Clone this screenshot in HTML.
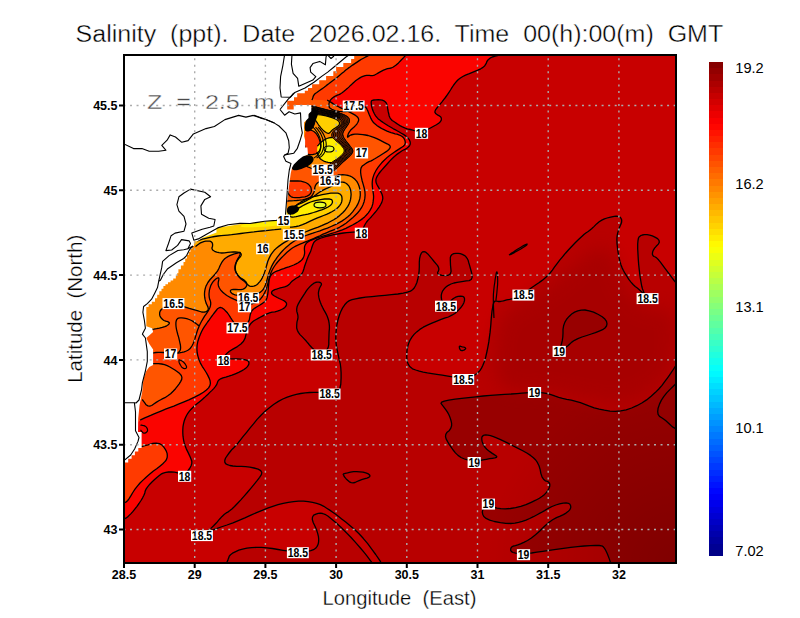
<!DOCTYPE html><html><head><meta charset="utf-8"><style>
html,body{margin:0;padding:0;background:#fff;width:800px;height:618px;overflow:hidden}
svg{display:block}
text{font-family:"Liberation Sans",sans-serif}
</style></head><body>
<svg width="800" height="618" viewBox="0 0 800 618">
<defs><clipPath id="pc"><rect x="125" y="56" width="550" height="506"/></clipPath></defs>

<g clip-path="url(#pc)">
<rect x="125" y="56" width="550" height="506" fill="#c80000"/>
<rect x="120" y="50" width="560" height="520" fill="#c80000"/>
<path d="M380.7 562.0 L379.9 560.6 L378.2 558.1 L375.7 554.5 L372.1 549.7 L367.7 543.7 L363.2 538.3 L358.8 533.5 L354.3 529.2 L349.8 525.5 L345.7 522.1 L342.0 519.2 L338.6 516.6 L335.7 514.3 L332.7 512.2 L329.7 510.1 L326.7 508.2 L323.8 506.3 L320.4 504.7 L316.7 503.4 L312.6 502.4 L308.1 501.6 L303.5 501.2 L298.6 501.2 L293.6 501.6 L288.4 502.4 L283.2 503.4 L278.0 504.7 L272.8 506.3 L267.6 508.2 L262.2 510.3 L256.6 512.6 L250.9 515.1 L244.9 517.9 L239.0 520.4 L233.0 522.8 L227.0 525.0 L221.0 527.0 L215.9 528.8 L211.6 530.4 L208.2 531.9 L205.8 533.1 L204.5 533.6 L204.5 533.4 L205.8 532.4 L208.2 530.6 L210.9 528.4 L213.6 525.8 L216.5 522.8 L219.5 519.2 L222.1 516.4 L224.4 514.3 L226.2 512.9 L227.8 512.1 L229.6 510.8 L231.9 508.9 L234.5 506.5 L237.4 503.5 L240.6 500.1 L243.9 496.4 L247.5 492.3 L251.2 487.9 L254.5 483.9 L257.3 480.4 L259.6 477.3 L261.4 474.7 L261.8 472.5 L260.7 470.6 L258.1 469.1 L254.0 468.0 L249.8 467.1 L245.6 466.6 L241.2 466.3 L236.7 466.3 L232.9 466.0 L229.8 465.5 L227.4 464.7 L225.6 463.6 L224.8 462.1 L224.8 460.3 L225.6 458.0 L227.4 455.4 L229.1 453.0 L230.7 451.0 L232.2 449.2 L233.8 447.7 L235.6 445.7 L237.9 443.1 L240.5 439.9 L243.4 436.2 L246.6 432.3 L249.9 428.2 L253.5 423.9 L257.1 419.4 L261.0 415.2 L265.1 411.3 L269.4 407.7 L273.9 404.3 L278.4 401.4 L282.8 399.0 L287.3 397.1 L291.8 395.6 L296.3 394.4 L300.7 393.5 L305.2 392.8 L309.6 392.5 L313.8 392.3 L317.7 392.3 L321.3 392.5 L324.7 392.8 L327.8 393.1 L330.8 393.2 L333.7 393.1 L336.3 393.0 L338.4 391.4 L339.9 388.4 L340.8 384.0 L341.1 378.1 L341.1 372.8 L340.8 367.9 L340.2 363.5 L339.2 359.7 L338.4 355.8 L337.6 351.9 L336.8 348.0 L336.2 344.1 L335.8 339.9 L335.8 335.4 L336.2 330.5 L336.8 325.4 L337.8 320.5 L339.1 316.0 L340.7 311.8 L342.6 307.9 L344.7 304.8 L347.0 302.3 L349.4 300.6 L352.0 299.7 L355.6 298.8 L360.1 298.0 L365.6 297.2 L372.0 296.6 L378.5 295.9 L384.9 295.3 L391.4 294.6 L397.9 294.0 L403.2 293.2 L407.4 292.2 L410.5 291.1 L412.5 289.8 L414.2 288.0 L415.6 285.5 L416.9 282.5 L417.8 279.0 L418.6 275.2 L419.1 271.1 L419.3 266.8 L419.3 262.3 L419.6 258.5 L420.3 255.6 L421.2 253.4 L422.5 251.9 L424.0 251.6 L425.8 252.2 L427.8 253.9 L430.1 256.6 L432.2 259.1 L434.1 261.5 L435.9 263.6 L437.6 265.6 L438.5 267.4 L438.9 269.2 L438.5 270.9 L437.6 272.5 L437.8 273.8 L439.3 274.7 L441.9 275.4 L445.8 275.7 L448.6 275.1 L450.4 273.7 L451.1 271.4 L450.8 268.1 L450.5 265.2 L450.4 262.4 L450.3 259.9 L450.3 257.6 L450.9 255.8 L452.0 254.5 L453.7 253.7 L456.0 253.4 L458.2 253.4 L460.3 253.7 L462.3 254.4 L464.2 255.3 L465.8 256.6 L467.1 258.3 L468.1 260.2 L468.7 262.5 L469.5 265.1 L470.3 268.0 L471.2 271.2 L472.1 274.8 L472.1 277.5 L471.2 279.5 L469.2 280.6 L466.3 280.9 L463.4 281.3 L460.3 281.8 L457.1 282.4 L453.9 283.0 L451.0 284.0 L448.4 285.3 L446.1 286.9 L444.2 288.8 L442.7 290.8 L441.8 292.9 L441.3 295.1 L441.3 297.4 L441.6 299.4 L442.3 301.2 L443.2 302.8 L444.5 304.0 L445.9 304.5 L447.5 304.0 L449.3 302.6 L451.3 300.3 L453.4 298.5 L455.6 297.2 L458.1 296.4 L460.6 296.1 L462.6 296.3 L463.9 297.1 L464.5 298.5 L464.5 300.5 L463.9 302.7 L462.6 305.1 L460.6 307.8 L458.1 310.6 L455.2 313.2 L451.9 315.2 L448.4 317.0 L444.5 318.2 L440.5 319.7 L436.3 321.3 L431.9 323.1 L427.4 325.1 L423.3 327.2 L419.8 329.4 L416.7 331.9 L414.1 334.4 L411.9 337.2 L410.1 340.1 L408.7 343.2 L407.8 346.4 L407.1 349.8 L406.8 353.4 L406.8 357.1 L407.1 361.0 L408.2 364.2 L410.0 366.8 L412.5 368.8 L415.7 370.0 L419.3 371.2 L423.2 372.1 L427.4 372.9 L431.9 373.6 L436.8 374.3 L442.2 375.2 L447.9 376.2 L454.0 377.2 L459.5 377.8 L464.3 377.8 L468.6 377.2 L472.1 376.2 L475.2 374.7 L477.8 372.8 L479.9 370.6 L481.5 368.1 L482.9 365.2 L484.2 361.9 L485.4 358.4 L486.3 354.5 L487.2 350.5 L488.0 346.3 L488.8 341.9 L489.4 337.4 L490.0 332.9 L490.5 328.3 L490.9 323.8 L491.2 319.2 L491.6 315.0 L492.0 311.2 L492.6 307.8 L493.1 304.6 L493.9 302.5 L494.8 301.1 L495.9 300.8 L497.1 301.2 L498.5 301.5 L500.0 301.5 L501.6 301.2 L503.4 300.8 L505.1 300.3 L506.7 299.9 L508.2 299.6 L509.8 299.4 L511.6 298.9 L513.7 298.1 L516.1 297.1 L518.9 295.9 L521.4 294.6 L523.8 293.2 L526.0 291.8 L528.0 290.2 L530.1 288.8 L532.2 287.2 L534.4 285.8 L536.6 284.2 L538.9 282.7 L541.1 281.1 L543.4 279.4 L545.6 277.6 L547.9 275.5 L550.1 273.0 L552.4 270.1 L554.6 266.9 L557.1 263.6 L559.7 260.2 L562.5 256.8 L565.5 253.2 L568.6 249.8 L571.9 246.2 L575.2 242.8 L578.8 239.2 L581.8 236.4 L584.2 234.2 L586.2 232.7 L587.8 231.8 L589.5 230.5 L591.6 228.8 L593.9 226.6 L596.6 223.9 L599.2 221.8 L601.8 220.1 L604.4 218.8 L607.1 218.0 L609.6 217.3 L611.9 216.8 L614.2 216.4 L616.2 216.2 L618.0 216.3 L619.5 216.8 L620.6 217.8 L621.4 219.0 L621.7 220.5 L621.6 222.2 L621.0 224.1 L620.0 226.3 L619.1 228.5 L618.3 230.9 L617.6 233.4 L617.1 236.0 L616.9 239.3 L617.0 243.3 L617.5 247.9 L618.2 253.1 L619.1 257.7 L620.0 261.7 L621.0 264.9 L622.0 267.6 L623.3 270.3 L624.9 273.2 L626.8 276.2 L628.8 279.4 L631.0 282.1 L633.1 284.5 L635.2 286.5 L637.3 288.0 L639.3 289.7 L641.2 291.4 L642.9 293.2 L644.4 295.0 L645.4 296.0 L645.6 296.0 L645.2 295.0 L644.2 293.2 L643.3 291.1 L642.5 288.9 L641.8 286.5 L641.3 283.8 L640.8 280.8 L640.2 277.4 L639.7 273.6 L639.2 269.4 L638.7 264.8 L638.3 259.8 L638.0 254.4 L637.7 248.7 L637.7 244.0 L638.0 240.5 L638.5 238.0 L639.3 236.7 L640.6 235.7 L642.3 235.0 L644.4 234.7 L647.1 234.7 L649.7 235.1 L652.3 235.9 L654.9 237.1 L657.6 238.6 L659.0 240.3 L659.3 242.2 L658.3 244.1 L656.2 246.3 L654.6 248.2 L653.4 250.1 L652.7 251.8 L652.4 253.3 L652.5 254.6 L653.1 255.7 L654.0 256.5 L655.3 257.0 L656.8 258.1 L658.5 259.8 L660.4 262.2 L662.6 265.1 L664.8 268.1 L667.1 271.2 L669.6 274.5 L672.1 277.9 L674.9 280.5 L678.0 282.1 L681.2 283.0 L684.8 283.0 L687.4 301.6 L689.1 338.7 L690.0 394.4 L690.0 468.6 L670.7 524.3 L632.2 561.4 L574.4 580.0 L497.4 580.0 L439.6 579.0 L401.1 577.0 L381.8 574.0 L381.8 570.0 L381.6 566.7 L381.2 564.0Z" fill="#b80000"/>
<path d="M226.8 562.5 L227.2 561.5 L227.8 560.4 L228.2 559.1 L228.8 557.8 L229.2 556.2 L230.5 554.8 L232.5 553.2 L235.2 551.8 L238.8 550.2 L242.6 549.1 L246.9 548.2 L251.5 547.6 L256.5 547.4 L261.7 547.4 L267.0 547.8 L272.4 548.5 L278.1 549.5 L283.0 550.3 L287.2 550.9 L290.8 551.4 L293.6 551.6 L296.7 551.8 L300.1 551.8 L303.7 551.6 L307.5 551.4 L310.8 550.7 L313.5 549.7 L315.6 548.3 L317.1 546.4 L318.1 544.3 L318.6 541.9 L318.7 539.2 L318.4 536.3 L317.6 533.1 L316.5 529.8 L315.0 526.2 L313.2 522.5 L312.3 519.4 L312.5 517.0 L313.7 515.2 L316.0 514.1 L318.2 513.4 L320.4 513.2 L322.6 513.5 L324.9 514.3 L327.8 516.0 L331.5 518.9 L336.0 522.7 L341.2 527.5 L346.2 532.5 L351.1 537.5 L355.7 542.6 L360.2 547.8 L363.9 552.2 L366.9 555.9 L369.1 558.8 L370.6 560.8 L371.8 563.4 L372.5 566.5 L372.9 570.0 L372.9 574.0 L363.7 577.0 L345.4 579.0 L317.8 580.0 L281.1 580.0 L253.5 579.0 L235.2 577.0 L226.0 574.0 L226.0 570.0 L226.1 566.8 L226.4 564.2Z" fill="#b80000"/>
<path d="M317.9 352.2 L315.9 350.9 L313.9 349.5 L312.0 347.7 L310.1 345.8 L308.3 343.5 L306.4 341.3 L304.4 339.1 L302.3 336.9 L300.0 334.6 L298.4 332.4 L297.3 330.2 L296.7 328.0 L296.7 325.7 L296.8 323.7 L297.0 321.9 L297.4 320.4 L297.8 319.0 L298.0 317.5 L297.9 315.7 L297.5 313.7 L296.8 311.4 L296.7 309.1 L297.1 306.7 L298.2 304.1 L299.7 301.4 L301.4 298.7 L303.0 296.1 L304.8 293.4 L306.5 290.7 L308.3 288.4 L310.1 286.4 L311.9 284.7 L313.6 283.4 L315.4 282.5 L317.0 282.1 L318.7 282.1 L320.2 282.5 L321.2 283.2 L321.5 284.1 L321.2 285.2 L320.4 286.5 L319.6 288.0 L319.1 289.5 L318.7 291.2 L318.4 292.9 L318.5 294.9 L318.8 297.2 L319.4 299.6 L320.3 302.3 L321.4 304.9 L322.5 307.3 L323.7 309.6 L325.0 311.9 L326.2 314.1 L327.2 316.3 L328.0 318.5 L328.7 320.8 L329.1 323.2 L329.4 325.9 L329.4 328.8 L329.1 331.9 L329.0 335.0 L328.9 338.2 L328.8 341.3 L328.8 344.4 L328.3 347.1 L327.3 349.2 L325.9 350.9 L323.9 352.2 L322.5 353.1 L321.5 353.7 L321.0 354.0 L321.0 354.0 L320.5 353.7 L319.5 353.1Z" fill="#b80000"/>
<path d="M673.3 369.5 L671.5 372.2 L669.5 375.2 L667.2 378.3 L664.7 381.7 L662.0 385.4 L658.8 389.0 L655.2 392.6 L651.1 396.2 L646.6 399.9 L641.8 403.0 L636.8 405.7 L631.6 408.0 L626.2 409.8 L620.7 410.9 L615.3 411.4 L609.9 411.2 L604.4 410.2 L599.2 409.1 L594.2 407.8 L589.5 406.2 L584.9 404.3 L580.4 402.7 L575.8 401.4 L571.2 400.2 L566.7 399.3 L562.5 398.3 L558.7 397.3 L555.3 396.2 L552.4 395.1 L549.3 394.1 L546.1 393.4 L542.9 392.8 L539.5 392.5 L536.2 392.3 L532.8 392.3 L529.5 392.5 L526.2 392.8 L522.0 393.2 L517.0 393.6 L511.1 394.0 L504.4 394.3 L497.6 394.8 L490.5 395.4 L483.2 396.0 L475.8 396.8 L468.6 397.6 L461.7 398.4 L455.1 399.2 L448.8 400.1 L444.3 401.1 L441.7 402.2 L441.0 403.4 L442.1 404.8 L443.3 406.3 L444.6 408.1 L446.1 410.1 L447.6 412.4 L448.9 414.8 L450.0 417.4 L450.9 420.2 L451.6 423.1 L451.6 425.8 L450.8 428.2 L449.4 430.4 L447.1 432.2 L445.8 434.3 L445.5 436.5 L446.1 438.9 L447.6 441.6 L449.2 444.3 L451.1 447.1 L453.1 450.0 L455.4 452.9 L458.0 455.4 L461.0 457.5 L464.5 459.0 L468.4 460.2 L472.2 460.8 L475.9 461.0 L479.5 460.7 L483.1 459.9 L486.4 459.3 L489.5 458.7 L492.3 458.3 L494.9 457.9 L496.4 457.4 L496.8 456.6 L496.0 455.7 L494.2 454.6 L492.3 453.4 L490.5 452.1 L488.6 450.7 L486.8 449.2 L485.2 447.5 L483.9 445.7 L482.9 443.6 L482.1 441.4 L481.8 439.5 L481.8 437.9 L482.1 436.7 L482.9 435.8 L484.1 435.2 L485.8 435.0 L487.9 435.2 L490.5 435.7 L493.4 436.6 L496.5 437.8 L500.0 439.3 L503.7 441.2 L507.8 443.2 L512.3 445.5 L517.1 447.9 L522.3 450.5 L526.8 453.0 L530.5 455.4 L533.4 457.7 L535.7 460.0 L537.5 462.7 L539.0 465.8 L540.1 469.4 L540.9 473.6 L542.0 476.8 L543.5 479.2 L545.3 480.8 L547.6 481.5 L549.0 482.6 L549.8 484.1 L549.8 486.0 L549.0 488.2 L547.9 490.4 L546.4 492.4 L544.6 494.4 L542.3 496.2 L539.4 498.2 L535.7 500.2 L531.2 502.3 L526.0 504.6 L520.8 506.3 L515.6 507.6 L510.4 508.5 L505.2 508.8 L500.7 508.7 L497.0 508.2 L494.0 507.2 L491.8 505.7 L489.6 505.1 L487.6 505.3 L485.6 506.3 L483.8 508.1 L482.7 510.1 L482.3 512.1 L482.7 514.2 L483.8 516.5 L486.1 518.4 L489.7 520.1 L494.4 521.5 L500.4 522.6 L505.8 523.3 L510.6 523.5 L514.9 523.2 L518.6 522.4 L522.3 521.4 L526.0 520.1 L529.7 518.5 L533.4 516.7 L537.1 514.7 L540.9 512.7 L544.6 510.6 L548.3 508.3 L552.0 506.5 L555.8 505.0 L559.5 503.9 L563.2 503.1 L566.2 502.9 L568.4 503.3 L569.9 504.2 L570.6 505.7 L570.8 507.2 L570.4 508.7 L569.5 510.1 L568.0 511.6 L566.0 513.1 L563.4 514.6 L560.2 516.1 L556.5 517.6 L552.6 519.8 L548.5 522.8 L544.2 526.5 L539.8 531.0 L535.5 534.8 L531.4 538.0 L527.5 540.5 L523.8 542.3 L520.5 543.8 L517.7 544.9 L515.4 545.7 L513.5 546.0 L512.1 546.7 L511.2 547.6 L510.7 548.9 L510.7 550.4 L511.5 551.6 L513.1 552.5 L515.5 553.2 L518.7 553.5 L522.4 553.6 L526.7 553.4 L531.6 553.0 L536.9 552.2 L542.8 551.4 L549.2 550.4 L556.1 549.4 L563.6 548.3 L570.7 547.3 L577.6 546.6 L584.2 546.0 L590.5 545.6 L595.5 545.4 L599.2 545.5 L601.5 545.8 L602.5 546.2 L603.5 547.1 L604.5 548.4 L605.5 550.0 L606.5 552.0 L607.4 554.1 L608.3 556.2 L609.1 558.4 L609.9 560.6 L610.4 563.3 L610.8 566.4 L611.0 570.0 L611.0 574.0 L615.9 577.0 L625.8 579.0 L640.6 580.0 L660.4 580.0 L675.2 566.6 L685.1 539.8 L690.0 499.5 L690.0 445.9 L689.1 405.6 L687.4 378.8 L684.8 365.4 L681.2 365.4 L678.2 366.1 L675.5 367.4Z" fill="#980000"/>
<defs><radialGradient id="se" cx="676" cy="564" r="190" gradientUnits="userSpaceOnUse"><stop offset="0" stop-color="#000" stop-opacity="0.16"/><stop offset="1" stop-color="#000" stop-opacity="0"/></radialGradient></defs>
<rect x="480" y="370" width="200" height="200" fill="url(#se)"/>
<defs><filter id="b8" x="-20%" y="-20%" width="140%" height="140%"><feGaussianBlur stdDeviation="9"/></filter></defs>
<path d="M518.1 303.2 L526.9 298.8 L535.3 293.9 L543.4 288.6 L551.2 283.0 L558.8 277.0 L566.1 271.1 L573.4 265.2 L580.5 259.4 L587.5 253.6 L593.8 249.8 L599.2 247.8 L604.0 247.6 L608.0 249.4 L611.6 253.1 L614.9 258.7 L617.8 266.2 L620.2 275.8 L623.8 284.2 L628.2 291.8 L633.8 298.2 L640.2 303.8 L646.8 307.4 L653.2 309.3 L659.8 309.4 L666.2 307.6 L671.1 310.5 L674.4 318.0 L676.0 330.1 L676.0 346.9 L673.8 361.2 L669.2 373.1 L662.5 382.5 L653.5 389.5 L644.2 395.0 L634.8 399.0 L625.0 401.5 L615.0 402.5 L603.8 402.4 L591.2 401.1 L577.5 398.8 L562.5 395.2 L548.8 392.8 L536.2 391.2 L525.0 390.8 L515.0 391.2 L507.1 389.6 L501.4 385.9 L497.8 380.0 L496.2 372.0 L495.3 364.1 L494.9 356.4 L495.1 348.8 L495.9 341.2 L496.9 334.4 L498.3 328.1 L500.0 322.5 L502.0 317.5 L505.7 312.6 L511.1 307.9Z" fill="#a40000" filter="url(#b8)" opacity="0.8"/>
<path d="M560.6 346.4 L561.6 343.6 L562.3 340.4 L562.8 337.0 L563.0 333.3 L563.0 329.4 L563.6 325.8 L564.8 322.4 L566.6 319.2 L569.1 316.4 L571.7 314.0 L574.6 312.1 L577.8 310.8 L581.2 310.1 L585.0 310.0 L589.1 310.8 L593.6 312.2 L598.4 314.5 L602.2 316.7 L604.9 319.1 L606.5 321.4 L607.0 323.9 L606.5 326.0 L605.0 328.0 L602.6 329.7 L599.2 331.1 L595.4 332.6 L591.3 334.0 L586.8 335.5 L582.0 337.0 L577.9 338.6 L574.5 340.3 L571.8 342.1 L569.8 344.0 L567.9 345.7 L565.9 347.1 L564.0 348.4 L562.1 349.3 L560.6 350.1 L559.7 350.6 L559.2 350.8 L559.2 350.8 L559.4 350.1 L559.9 348.6Z" fill="#980000"/>
<path d="M495.2 56.2 L492.3 57.0 L490.0 58.2 L488.2 59.7 L486.9 61.5 L486.1 63.7 L484.8 65.7 L483.0 67.4 L480.7 68.8 L477.8 70.1 L474.8 71.3 L471.8 72.6 L468.7 73.9 L465.5 75.1 L462.8 76.5 L460.4 78.0 L458.4 79.5 L456.9 81.0 L455.3 82.9 L453.7 85.0 L452.1 87.4 L450.5 90.0 L448.8 92.6 L447.1 95.1 L445.4 97.5 L443.5 99.9 L441.8 102.1 L440.1 104.2 L438.4 106.2 L436.9 108.0 L435.7 109.6 L435.1 110.9 L434.9 112.0 L435.1 112.7 L435.7 113.5 L436.6 114.3 L437.9 115.1 L439.4 115.9 L440.6 116.8 L441.2 117.9 L441.4 119.0 L441.2 120.3 L440.3 121.7 L438.7 123.2 L436.4 124.7 L433.6 126.2 L430.9 127.7 L428.5 129.0 L426.3 130.2 L424.4 131.2 L422.5 131.9 L420.7 132.1 L418.9 132.0 L417.2 131.5 L415.2 130.9 L412.9 130.2 L410.2 129.5 L407.3 128.8 L404.7 127.9 L402.4 126.9 L400.4 125.9 L398.6 124.7 L396.9 123.6 L395.3 122.5 L393.8 121.5 L392.2 120.5 L391.0 119.2 L390.0 117.8 L389.2 116.0 L388.8 114.0 L388.3 112.0 L387.9 110.0 L387.6 108.0 L387.4 106.0 L386.9 104.3 L386.1 102.8 L385.1 101.7 L383.9 100.8 L382.3 100.2 L380.4 99.8 L378.2 99.7 L375.8 99.8 L373.8 100.0 L372.4 100.3 L371.6 100.8 L371.4 101.2 L371.2 102.1 L371.2 103.2 L371.4 104.6 L371.6 106.4 L372.1 108.2 L372.7 110.1 L373.5 112.0 L374.5 114.0 L375.6 115.8 L376.9 117.4 L378.2 118.9 L379.8 120.1 L381.5 121.4 L383.5 122.8 L385.8 124.2 L388.2 125.8 L390.8 127.2 L393.4 128.8 L396.1 130.2 L398.9 131.8 L401.3 133.2 L403.4 134.4 L405.2 135.6 L406.6 136.8 L407.8 137.9 L408.8 139.1 L409.6 140.4 L410.1 141.7 L410.3 143.0 L410.2 144.2 L409.7 145.3 L409.0 146.3 L408.0 147.3 L406.8 148.2 L405.4 149.1 L403.9 149.8 L402.1 150.8 L400.3 152.0 L398.3 153.4 L396.2 154.9 L394.1 156.7 L392.0 158.7 L389.9 160.9 L387.8 163.2 L385.8 165.5 L383.8 167.8 L381.9 169.9 L380.1 172.0 L378.6 174.0 L377.4 175.9 L376.5 177.6 L376.0 179.1 L375.9 180.8 L376.1 182.5 L376.8 184.3 L377.8 186.1 L378.9 188.0 L379.9 190.0 L381.0 192.1 L382.0 194.2 L382.6 196.2 L382.8 198.4 L382.4 200.4 L381.7 202.6 L380.5 204.8 L379.1 207.1 L377.3 209.6 L375.2 212.3 L373.2 214.6 L371.4 216.7 L369.6 218.6 L368.1 220.1 L366.6 222.0 L365.3 224.0 L364.1 226.3 L363.1 228.8 L361.9 230.7 L360.5 231.8 L359.0 232.3 L357.3 232.1 L355.2 232.0 L352.8 232.1 L349.9 232.3 L346.7 232.6 L343.4 233.0 L340.2 233.5 L337.0 234.1 L333.7 234.7 L330.8 235.4 L328.0 236.0 L325.5 236.7 L323.2 237.3 L321.2 238.0 L319.4 238.6 L317.9 239.3 L316.6 239.9 L315.5 240.7 L314.6 241.5 L313.9 242.4 L313.4 243.3 L312.9 244.5 L312.4 245.8 L311.9 247.2 L311.4 248.9 L310.9 250.4 L310.3 251.9 L309.7 253.2 L309.1 254.5 L308.4 256.1 L307.7 257.8 L306.9 259.7 L306.2 261.8 L305.4 264.0 L304.6 266.3 L303.9 268.8 L303.1 271.2 L302.0 273.5 L300.4 275.4 L298.5 277.0 L296.1 278.3 L294.1 279.7 L292.3 281.0 L290.9 282.4 L289.7 283.9 L288.3 285.1 L286.6 286.1 L284.6 286.8 L282.4 287.4 L280.3 287.9 L278.3 288.5 L276.5 289.1 L274.8 289.6 L273.4 290.3 L272.4 291.0 L271.8 291.8 L271.5 292.7 L271.7 293.6 L272.4 294.5 L273.6 295.5 L275.4 296.5 L277.2 297.5 L279.2 298.5 L281.4 299.5 L283.6 300.5 L285.2 301.6 L286.2 302.7 L286.6 303.9 L286.4 305.1 L285.8 306.3 L284.8 307.4 L283.4 308.5 L281.6 309.5 L279.6 310.4 L277.4 311.1 L274.9 311.8 L272.1 312.2 L269.5 312.9 L267.0 313.8 L264.6 314.9 L262.4 316.1 L260.2 317.3 L258.2 318.4 L256.2 319.5 L254.3 320.5 L252.6 321.8 L251.1 323.2 L249.8 325.0 L248.7 327.0 L247.7 329.3 L246.7 331.9 L245.9 334.9 L245.1 338.1 L243.5 341.2 L240.9 344.0 L237.4 346.6 L232.9 349.1 L229.4 351.3 L226.8 353.5 L225.1 355.4 L224.2 357.3 L224.1 358.5 L224.6 359.3 L225.7 359.4 L227.5 359.1 L229.9 358.8 L233.0 358.8 L236.8 358.9 L241.1 359.1 L244.5 359.6 L247.0 360.4 L248.4 361.3 L248.9 362.6 L248.9 363.8 L248.4 365.2 L247.4 366.6 L246.0 368.0 L244.0 369.5 L241.6 370.9 L238.7 372.4 L235.3 373.8 L232.0 375.1 L228.9 376.2 L225.8 377.1 L222.9 377.8 L220.6 378.8 L218.9 380.0 L217.8 381.4 L217.3 383.1 L216.5 384.9 L215.3 386.7 L213.7 388.6 L211.7 390.6 L209.8 392.4 L208.0 394.2 L206.1 395.9 L204.4 397.6 L202.3 399.4 L199.9 401.4 L197.3 403.6 L194.4 406.1 L191.8 408.5 L189.6 410.9 L187.8 413.3 L186.4 415.8 L185.2 418.3 L184.2 421.0 L183.5 423.8 L183.0 426.7 L182.8 429.8 L182.8 432.9 L183.0 436.2 L183.5 439.6 L184.2 442.9 L185.2 446.0 L186.4 449.1 L187.8 451.9 L189.1 454.6 L190.2 457.0 L191.1 459.2 L191.8 461.2 L191.8 463.4 L191.1 465.8 L189.6 468.5 L187.5 471.3 L185.3 473.3 L183.2 474.3 L181.1 474.3 L179.1 473.4 L176.8 472.7 L174.3 472.2 L171.5 472.0 L168.5 472.0 L165.8 472.4 L163.2 473.1 L161.0 474.2 L159.0 475.8 L156.9 477.5 L154.6 479.5 L152.2 481.8 L149.8 484.2 L147.8 486.6 L146.2 488.9 L145.2 491.0 L144.8 493.0 L143.9 495.2 L142.6 497.8 L141.0 500.5 L139.0 503.5 L137.0 506.3 L135.0 508.9 L133.0 511.4 L131.0 513.6 L129.2 515.4 L127.8 516.8 L126.5 517.8 L125.5 518.2 L123.2 518.6 L119.8 518.9 L115.0 519.0 L109.0 519.0 L104.5 489.1 L101.5 429.2 L100.0 339.4 L100.0 219.6 L125.0 129.8 L174.9 69.9 L249.9 40.0 L349.8 40.0 L424.7 40.9 L474.6 42.8 L499.6 45.6 L499.6 49.4 L498.9 52.4 L497.4 54.7Z" fill="#fa0400"/>
<path d="M401.5 59.7 L398.5 62.9 L395.8 65.3 L393.3 67.0 L391.2 68.0 L389.3 68.3 L387.4 68.7 L385.5 69.4 L383.5 70.2 L381.6 71.2 L379.7 72.2 L378.0 73.1 L376.5 74.0 L375.0 74.8 L373.6 75.4 L372.2 75.7 L370.8 75.7 L369.4 75.4 L368.0 75.3 L366.6 75.4 L365.2 75.6 L363.7 76.1 L362.2 76.7 L360.7 77.4 L359.1 78.4 L357.4 79.5 L355.6 80.8 L354.0 82.2 L352.3 83.8 L350.5 85.4 L348.8 87.1 L347.2 88.6 L345.5 90.1 L343.7 91.6 L342.1 92.8 L340.5 93.8 L338.9 94.6 L337.3 95.1 L335.9 95.8 L334.4 96.6 L333.1 97.5 L331.9 98.5 L330.8 99.6 L330.0 100.7 L329.4 101.9 L329.1 103.1 L328.9 104.3 L328.9 105.4 L329.1 106.5 L329.4 107.5 L330.3 108.4 L331.8 109.3 L333.8 110.1 L336.2 110.9 L338.9 111.4 L341.8 111.6 L344.9 111.6 L348.1 111.4 L351.3 110.9 L354.4 110.1 L357.5 109.1 L360.5 107.9 L362.9 107.1 L364.6 106.9 L365.8 107.1 L366.2 107.9 L366.8 108.8 L367.2 109.8 L367.8 110.9 L368.2 112.1 L368.8 113.5 L369.4 115.0 L370.1 116.6 L370.9 118.4 L371.7 119.9 L372.6 121.3 L373.5 122.5 L374.5 123.5 L375.8 124.6 L377.2 125.7 L379.0 126.9 L381.0 128.1 L383.0 129.2 L385.0 130.2 L387.0 131.1 L389.0 131.9 L391.0 132.6 L393.0 133.2 L395.0 133.8 L397.0 134.2 L398.8 134.8 L400.4 135.5 L401.7 136.3 L402.9 137.1 L403.8 138.2 L404.5 139.4 L405.0 140.8 L405.3 142.3 L405.1 143.8 L404.4 145.1 L403.3 146.3 L401.8 147.3 L400.1 148.4 L398.2 149.6 L396.2 150.9 L394.2 152.2 L392.1 153.7 L389.9 155.2 L387.8 156.9 L385.8 158.8 L383.7 160.7 L381.7 162.8 L379.8 165.1 L378.0 167.4 L376.4 169.8 L375.1 172.2 L374.0 174.6 L373.2 176.9 L372.6 179.2 L372.3 181.5 L372.2 183.6 L372.3 185.8 L372.5 187.9 L372.8 189.9 L373.1 192.1 L373.4 194.2 L373.6 196.4 L373.5 198.7 L373.2 201.2 L372.8 203.9 L372.0 206.4 L371.0 208.7 L369.7 210.9 L368.1 213.1 L366.4 215.0 L364.6 216.9 L362.6 218.6 L360.5 220.1 L358.1 221.7 L355.4 223.4 L352.5 225.0 L349.2 226.7 L345.8 228.3 L342.3 229.8 L338.6 231.1 L334.7 232.5 L330.9 233.7 L327.3 234.8 L323.7 235.9 L320.2 237.0 L317.1 237.9 L314.4 238.9 L312.0 239.8 L310.0 240.7 L308.3 241.7 L306.9 242.7 L305.9 243.9 L305.1 245.1 L304.6 246.5 L304.4 248.1 L304.4 249.7 L304.6 251.6 L304.6 253.4 L304.3 255.1 L303.7 256.8 L302.9 258.5 L301.7 260.0 L300.1 261.4 L298.2 262.7 L296.0 263.9 L293.7 265.0 L291.2 266.0 L288.8 266.9 L286.2 267.7 L283.7 268.6 L281.3 269.4 L279.0 270.3 L276.7 271.1 L274.8 272.0 L273.2 273.0 L271.9 274.1 L270.9 275.3 L270.1 276.6 L269.6 278.2 L269.1 280.0 L268.9 282.0 L268.7 284.0 L268.5 286.0 L268.3 288.0 L268.2 290.0 L268.0 291.9 L267.8 293.8 L267.4 295.6 L267.1 297.4 L266.6 298.9 L266.0 300.1 L265.3 301.1 L264.6 301.9 L263.3 302.8 L261.7 303.9 L259.6 305.2 L257.0 306.7 L254.9 308.1 L253.3 309.3 L252.1 310.5 L251.4 311.6 L250.8 313.0 L250.2 314.8 L249.8 317.0 L249.4 319.6 L248.4 321.7 L246.8 323.4 L244.4 324.8 L241.5 325.6 L238.9 325.8 L236.7 325.3 L234.9 324.0 L233.5 322.0 L232.2 320.1 L230.9 318.1 L229.8 316.3 L228.6 314.5 L227.4 312.8 L225.9 311.2 L224.3 309.6 L222.5 308.2 L220.8 307.5 L219.2 307.7 L217.6 308.7 L216.2 310.5 L214.6 312.5 L213.0 314.7 L211.2 317.0 L209.4 319.6 L207.6 322.0 L206.0 324.4 L204.4 326.7 L203.0 328.9 L201.6 331.5 L200.3 334.4 L199.0 337.8 L197.8 341.5 L197.1 345.1 L196.9 348.8 L197.1 352.5 L197.9 356.1 L199.0 359.7 L200.4 363.1 L202.2 366.3 L204.3 369.5 L206.2 372.5 L207.8 375.4 L209.1 378.1 L210.1 380.8 L210.4 383.3 L209.9 385.6 L208.6 387.9 L206.4 390.0 L203.4 392.3 L199.5 394.6 L194.6 397.1 L188.8 399.8 L183.4 402.1 L178.4 404.2 L173.8 406.1 L169.6 407.6 L165.5 409.2 L161.6 410.8 L157.8 412.4 L154.1 413.9 L150.7 415.4 L147.8 416.6 L145.3 417.7 L143.2 418.6 L141.0 419.9 L138.7 421.6 L136.2 423.8 L133.8 426.2 L132.6 429.2 L132.8 432.5 L134.3 436.2 L137.2 440.4 L140.4 443.2 L144.1 444.6 L148.1 444.8 L152.4 443.5 L156.2 443.2 L159.4 443.7 L161.9 445.0 L163.8 447.2 L165.3 449.3 L166.4 451.4 L167.1 453.4 L167.3 455.4 L167.2 457.2 L166.7 458.9 L165.9 460.5 L164.6 461.9 L162.8 463.7 L160.2 465.9 L157.0 468.5 L153.1 471.3 L149.5 474.3 L146.1 477.2 L143.0 480.1 L140.0 483.0 L137.4 486.1 L135.0 489.2 L132.8 492.5 L130.8 495.9 L129.1 498.6 L127.7 500.5 L126.4 501.8 L125.5 502.2 L123.2 502.6 L119.7 502.9 L115.0 503.0 L109.0 503.0 L104.5 474.1 L101.5 416.2 L100.0 329.4 L100.0 213.6 L119.1 126.8 L157.4 68.9 L214.8 40.0 L291.2 40.0 L348.6 40.9 L386.9 42.8 L406.0 45.6 L406.0 49.4 L405.2 53.0 L403.8 56.4Z" fill="#ff3a00"/>
<path d="M367.0 56.3 L365.2 57.2 L363.4 58.2 L361.4 59.3 L359.3 60.6 L357.1 62.1 L354.8 63.6 L352.6 65.1 L350.3 66.8 L348.0 68.4 L345.8 70.1 L343.7 71.9 L341.6 73.6 L339.7 75.2 L337.6 76.9 L335.5 78.7 L333.3 80.3 L331.0 82.0 L328.7 83.8 L326.5 85.4 L324.2 87.2 L321.9 88.9 L319.9 90.3 L318.2 91.5 L316.8 92.5 L315.7 93.2 L314.7 94.0 L313.9 95.1 L313.2 96.4 L312.8 97.8 L313.3 98.9 L315.0 99.6 L317.7 100.0 L321.5 100.0 L325.0 100.4 L328.2 101.2 L331.1 102.4 L333.6 104.1 L336.5 105.7 L339.5 107.3 L342.9 108.9 L346.4 110.6 L349.6 112.1 L352.4 113.6 L354.7 114.9 L356.6 116.2 L357.9 117.5 L358.6 119.0 L358.6 120.5 L357.9 122.2 L357.0 123.8 L355.7 125.4 L354.1 127.0 L352.1 128.7 L350.5 130.3 L349.2 132.1 L348.3 133.8 L347.7 135.7 L347.5 136.8 L347.7 137.2 L348.4 136.8 L349.4 135.8 L350.9 135.0 L352.7 134.5 L354.9 134.2 L357.6 134.2 L360.2 134.3 L362.8 134.6 L365.4 135.0 L368.1 135.5 L370.8 136.3 L373.7 137.3 L376.8 138.7 L379.9 140.2 L382.7 141.6 L385.1 142.8 L387.1 143.8 L388.6 144.6 L389.7 145.5 L390.2 146.4 L390.2 147.4 L389.7 148.4 L388.8 149.5 L387.5 150.7 L385.8 151.9 L383.7 153.2 L381.7 154.5 L379.8 155.7 L378.1 156.8 L376.5 157.8 L374.8 158.8 L373.0 159.8 L371.1 160.8 L369.0 161.6 L367.1 162.6 L365.4 163.7 L363.8 164.9 L362.2 166.1 L361.2 167.7 L360.7 169.7 L360.6 172.1 L360.9 174.8 L361.5 177.8 L362.2 181.0 L363.2 184.4 L364.2 188.0 L364.9 191.6 L365.1 195.0 L364.8 198.4 L364.1 201.7 L363.0 204.8 L361.5 207.7 L359.7 210.4 L357.5 213.0 L355.0 215.5 L352.3 218.1 L349.3 220.6 L346.0 223.2 L342.7 225.4 L339.5 227.3 L336.2 228.9 L332.9 230.1 L329.6 231.4 L326.4 232.8 L323.1 234.2 L319.9 235.8 L316.7 237.2 L313.6 238.6 L310.5 239.9 L307.5 241.1 L304.8 242.2 L302.5 243.2 L300.6 243.9 L298.9 244.6 L297.3 245.3 L295.7 246.1 L294.1 247.0 L292.4 248.0 L290.7 249.2 L288.9 250.7 L287.0 252.3 L285.0 254.2 L283.1 256.1 L281.2 258.0 L279.4 260.0 L277.6 262.0 L276.0 264.0 L274.6 266.0 L273.3 268.0 L272.2 270.0 L271.2 272.1 L270.3 274.4 L269.6 276.8 L268.9 279.2 L268.3 281.7 L267.7 284.1 L267.1 286.4 L266.4 288.6 L265.6 290.8 L264.6 292.9 L263.4 295.0 L262.1 297.0 L260.7 298.7 L259.4 300.1 L258.1 301.1 L256.9 301.9 L255.4 302.6 L253.8 303.2 L252.0 303.8 L250.0 304.2 L247.9 304.4 L245.8 304.1 L243.5 303.4 L241.2 302.4 L239.1 301.4 L237.2 300.6 L235.4 299.8 L233.8 299.2 L232.2 298.4 L230.6 297.6 L229.0 296.7 L227.3 295.8 L225.8 294.7 L224.3 293.6 L223.0 292.4 L221.6 291.1 L220.6 289.8 L219.7 288.5 L219.0 287.2 L218.5 285.9 L218.2 284.6 L218.2 283.3 L218.3 282.0 L218.6 280.8 L218.8 279.7 L218.9 278.9 L218.8 278.3 L218.7 278.0 L218.4 277.8 L218.0 277.8 L217.5 278.0 L216.8 278.3 L216.1 278.8 L215.3 279.5 L214.4 280.3 L213.5 281.2 L212.6 282.4 L211.8 283.7 L211.0 285.1 L210.4 286.7 L209.9 288.4 L209.4 290.2 L209.2 292.0 L209.0 294.0 L209.1 295.8 L209.3 297.6 L209.7 299.3 L210.4 301.0 L210.7 302.6 L210.7 304.2 L210.4 305.9 L209.9 307.5 L209.1 309.2 L208.2 310.9 L207.1 312.6 L205.9 314.4 L204.6 316.2 L203.4 318.2 L202.1 320.3 L200.9 322.5 L199.8 324.7 L198.8 327.0 L197.9 329.2 L197.1 331.5 L196.4 333.9 L195.6 336.3 L194.9 338.8 L194.1 341.2 L193.2 343.5 L192.2 345.5 L191.1 347.2 L189.9 348.8 L188.3 350.0 L186.4 351.0 L184.2 351.8 L181.8 352.4 L179.4 352.8 L177.2 353.1 L175.2 353.2 L173.4 353.2 L171.3 353.1 L168.9 353.0 L166.2 352.8 L163.4 352.5 L160.7 352.4 L158.2 352.4 L155.9 352.5 L153.8 352.8 L150.9 353.0 L147.3 353.1 L142.9 353.1 L137.7 353.1 L132.0 353.0 L125.7 353.0 L118.8 353.0 L111.2 353.0 L105.6 333.4 L101.9 294.3 L100.0 235.6 L100.0 157.4 L116.8 98.7 L150.5 59.6 L201.1 40.0 L268.4 40.0 L319.0 40.9 L352.7 42.8 L369.5 45.6 L369.5 49.4 L369.1 52.4 L368.2 54.7Z" fill="#ff5500"/>
<path d="M145.3 363.7 L147.4 363.7 L149.8 363.7 L152.5 363.7 L155.4 363.7 L158.5 363.7 L161.6 364.0 L164.5 364.7 L167.2 365.7 L169.9 367.0 L172.4 368.5 L174.9 370.0 L177.4 371.7 L179.7 373.6 L181.3 375.5 L181.9 377.4 L181.7 379.4 L180.6 381.6 L179.2 383.8 L177.5 386.2 L175.5 388.7 L173.1 391.3 L170.6 393.7 L167.8 395.8 L164.9 397.7 L161.7 399.2 L158.8 400.8 L156.2 402.4 L153.8 404.0 L151.7 405.5 L149.7 406.2 L147.9 405.9 L146.1 404.8 L144.6 402.7 L142.6 401.1 L140.3 400.1 L137.6 399.7 L134.6 399.8 L132.3 397.6 L130.8 393.0 L130.0 386.1 L130.0 376.9 L130.8 370.0 L132.3 365.4 L134.6 363.3 L137.6 363.4 L140.4 363.6 L143.0 363.7Z" fill="#ff5500"/>
<path d="M205.6 234.5 L209.4 233.5 L213.8 234.0 L218.8 236.1 L224.5 239.6 L230.9 244.7 L235.2 248.6 L237.4 251.4 L237.5 253.0 L235.6 253.5 L233.7 254.1 L231.7 254.8 L229.8 255.7 L227.8 256.6 L226.1 257.7 L224.7 258.8 L223.4 260.1 L222.5 261.4 L221.6 262.7 L220.8 264.2 L220.0 265.7 L219.4 267.3 L218.7 268.8 L217.9 270.3 L217.0 271.6 L216.0 272.9 L215.0 274.2 L213.9 275.5 L212.7 276.8 L211.3 278.2 L210.1 279.5 L209.0 281.0 L207.9 282.5 L207.0 284.2 L206.1 285.9 L205.5 287.6 L205.0 289.5 L204.7 291.4 L204.5 293.3 L204.5 295.3 L204.7 297.2 L205.0 299.2 L205.5 301.1 L206.1 303.1 L207.0 305.0 L207.9 306.9 L208.3 308.5 L208.1 309.9 L207.4 310.9 L206.0 311.6 L204.6 312.0 L203.2 312.2 L201.7 312.0 L200.1 311.5 L198.1 310.9 L195.6 310.2 L192.7 309.3 L189.3 308.4 L186.1 307.4 L183.0 306.4 L180.2 305.4 L177.5 304.5 L174.7 304.1 L171.8 304.3 L168.8 305.2 L165.6 306.6 L163.1 308.1 L161.3 309.5 L160.2 311.0 L159.7 312.5 L159.6 314.0 L159.8 315.4 L160.4 316.9 L161.4 318.3 L162.6 319.5 L164.0 320.5 L165.7 321.2 L167.7 321.7 L168.9 322.3 L169.4 323.0 L169.1 323.9 L168.2 324.8 L166.7 325.8 L164.8 326.6 L162.3 327.4 L159.4 328.1 L156.6 328.7 L153.9 329.2 L151.3 329.5 L148.8 329.7 L146.0 329.9 L142.8 329.9 L139.4 330.0 L135.6 330.0 L132.8 324.4 L130.9 313.1 L130.0 296.2 L130.0 273.8 L134.4 256.6 L143.1 244.9 L156.2 238.5 L173.8 237.5 L187.8 236.5 L198.4 235.5Z" fill="#ff8a00"/>
<path d="M307.9 107.2 L309.1 106.6 L310.9 106.4 L313.1 106.7 L315.8 107.2 L319.1 108.2 L322.3 109.0 L325.5 109.8 L328.7 110.6 L332.0 111.2 L335.0 112.0 L337.9 112.8 L340.7 113.7 L343.3 114.6 L345.4 115.6 L347.0 116.6 L348.1 117.6 L348.8 118.5 L349.2 119.5 L349.3 120.5 L349.2 121.5 L349.0 122.4 L348.5 123.5 L347.8 124.6 L347.0 125.8 L346.1 127.1 L345.2 128.4 L344.4 129.7 L343.6 130.9 L343.0 132.2 L342.6 133.5 L342.6 134.8 L343.0 136.2 L343.6 137.5 L344.4 138.8 L345.4 140.3 L346.5 141.8 L347.8 143.5 L349.0 145.0 L350.1 146.5 L351.2 147.8 L352.1 149.1 L352.6 150.4 L352.6 151.7 L352.1 152.9 L351.2 154.2 L349.9 155.6 L348.5 157.1 L346.8 158.6 L344.9 160.3 L343.1 161.8 L341.5 163.3 L340.0 164.7 L338.8 166.0 L337.6 167.1 L336.6 168.0 L335.8 168.8 L335.2 169.5 L334.1 170.0 L332.6 170.5 L330.8 171.0 L328.5 171.4 L326.1 171.6 L323.7 171.5 L321.2 171.2 L318.8 170.8 L316.3 170.1 L313.9 169.4 L311.6 168.5 L309.4 167.5 L307.3 166.4 L305.4 165.1 L303.8 163.8 L302.2 162.2 L301.1 158.1 L300.4 151.4 L300.0 142.0 L300.0 130.0 L300.4 120.8 L301.1 114.2 L302.2 110.5 L303.8 109.5 L305.2 108.6 L306.6 107.8Z" fill="#ff8a00"/>
<path d="M340.8 174.9 L342.7 174.7 L344.6 174.8 L346.4 175.1 L348.3 175.5 L350.2 176.1 L352.0 177.0 L353.7 178.2 L355.2 179.6 L356.8 181.4 L358.0 183.5 L359.0 186.0 L359.8 188.9 L360.2 192.1 L360.3 195.2 L359.9 198.2 L359.1 201.1 L357.9 203.9 L356.4 206.6 L354.6 209.2 L352.6 211.8 L350.4 214.4 L347.8 216.8 L344.9 219.0 L341.8 221.1 L338.2 223.1 L334.7 224.9 L331.1 226.5 L327.4 228.1 L323.6 229.4 L319.9 230.8 L316.3 232.0 L312.8 233.2 L309.2 234.3 L306.0 235.5 L303.0 236.7 L300.2 237.9 L297.8 239.1 L295.3 240.5 L292.9 242.0 L290.6 243.6 L288.4 245.4 L286.2 247.2 L284.2 249.1 L282.4 251.0 L280.6 253.0 L278.9 255.1 L277.3 257.2 L275.8 259.4 L274.2 261.6 L272.9 263.9 L271.7 266.1 L270.7 268.4 L269.8 270.6 L269.0 272.9 L268.2 275.3 L267.6 277.8 L266.9 280.2 L266.2 282.6 L265.4 284.9 L264.5 287.0 L263.5 289.0 L262.0 290.8 L260.0 292.4 L257.5 293.9 L254.5 295.1 L251.5 296.0 L248.6 296.5 L245.8 296.5 L242.9 296.2 L240.5 295.9 L238.3 295.6 L236.5 295.2 L235.1 294.9 L233.8 294.4 L232.7 293.9 L231.8 293.2 L231.1 292.5 L230.6 291.8 L230.4 291.2 L230.5 290.6 L230.9 290.0 L231.9 289.7 L233.5 289.5 L235.8 289.5 L238.7 289.7 L241.2 289.6 L243.2 289.1 L244.7 288.4 L245.8 287.2 L246.5 286.2 L246.9 285.1 L246.9 283.9 L246.5 282.8 L245.8 281.7 L244.7 280.6 L243.3 279.6 L241.4 278.4 L239.8 277.2 L238.3 275.7 L237.1 274.1 L235.9 272.3 L235.2 270.5 L234.9 268.7 L234.9 266.9 L235.2 265.0 L235.8 263.2 L236.5 261.4 L237.4 259.6 L238.5 257.7 L239.3 256.2 L239.9 254.9 L240.2 254.0 L240.3 253.3 L239.7 252.0 L238.4 250.2 L236.5 247.7 L233.9 244.6 L232.6 241.3 L232.5 237.8 L233.8 234.0 L236.2 230.0 L240.9 226.4 L247.6 223.1 L256.5 220.2 L267.5 217.8 L275.9 215.1 L281.8 212.2 L285.1 209.1 L285.9 205.9 L287.1 203.4 L288.9 201.7 L291.1 200.8 L293.9 200.7 L296.7 200.5 L299.6 200.2 L302.5 199.8 L305.5 199.2 L308.0 198.5 L310.1 197.4 L311.7 196.1 L312.8 194.4 L313.7 192.8 L314.3 191.1 L314.7 189.4 L314.8 187.6 L315.2 186.1 L315.9 184.7 L316.9 183.5 L318.1 182.5 L319.7 181.6 L321.5 180.7 L323.6 179.9 L325.9 179.1 L328.2 178.4 L330.5 177.6 L332.7 176.9 L334.8 176.1 L336.4 175.6 L337.5 175.2 L338.0 175.0 L338.0 175.0 L338.5 175.0 L339.4 174.9Z" fill="#ff8a00"/>
<path d="M198.1 244.5 L199.9 243.2 L201.7 242.3 L203.7 241.6 L205.8 241.2 L208.0 241.1 L209.8 241.2 L211.1 241.7 L211.9 242.4 L212.4 243.3 L212.6 244.4 L212.6 245.5 L212.4 246.8 L211.9 248.0 L212.2 249.2 L213.0 250.3 L214.6 251.3 L216.7 252.2 L219.1 252.7 L221.8 253.0 L224.6 252.9 L227.7 252.4 L230.5 252.2 L233.1 252.0 L235.3 252.0 L237.4 252.1 L239.0 252.4 L240.1 252.9 L240.9 253.5 L241.2 254.3 L241.2 255.1 L240.9 256.0 L240.2 257.0 L239.3 257.9 L238.4 259.0 L237.6 260.1 L236.9 261.3 L236.2 262.7 L235.8 264.0 L235.5 265.5 L235.3 267.0 L235.3 268.6 L235.5 270.2 L236.0 271.8 L236.7 273.4 L237.7 275.1 L238.7 276.5 L239.8 277.8 L241.0 279.0 L242.4 279.9 L243.5 280.8 L244.5 281.6 L245.3 282.4 L245.9 283.0 L246.6 283.7 L247.3 284.3 L248.1 285.0 L248.8 285.6 L249.8 286.1 L250.9 286.3 L252.2 286.4 L253.8 286.2 L255.2 285.7 L256.8 284.7 L258.2 283.4 L259.8 281.6 L261.1 279.8 L262.3 277.8 L263.3 275.6 L264.2 273.4 L265.0 271.1 L265.8 268.7 L266.4 266.2 L267.1 263.8 L267.8 261.3 L268.8 258.9 L269.9 256.6 L271.1 254.4 L272.6 252.3 L274.2 250.3 L276.0 248.6 L278.0 246.9 L280.1 245.4 L282.2 243.9 L284.5 242.4 L286.8 241.1 L289.0 239.8 L291.3 238.5 L293.5 237.3 L295.6 236.2 L297.9 235.1 L300.3 234.0 L302.7 233.0 L305.3 232.0 L308.1 230.9 L311.2 229.7 L314.6 228.4 L318.2 227.1 L321.7 225.7 L325.0 224.2 L328.1 222.8 L330.9 221.2 L333.7 219.7 L336.2 218.1 L338.6 216.4 L340.7 214.6 L342.7 212.8 L344.6 210.8 L346.2 208.6 L347.8 206.4 L349.0 204.1 L349.9 201.7 L350.6 199.2 L350.9 196.8 L351.1 194.4 L350.9 192.1 L350.6 190.0 L349.9 188.0 L349.0 186.2 L347.8 184.8 L346.4 183.5 L344.6 182.5 L342.7 182.1 L340.6 182.2 L338.2 182.9 L335.8 184.1 L333.2 185.4 L330.6 186.6 L327.9 187.9 L325.1 189.1 L322.6 190.4 L320.2 191.8 L318.0 193.2 L316.0 194.8 L314.0 196.2 L312.0 197.5 L310.0 198.7 L308.0 199.8 L306.0 200.9 L304.0 201.9 L302.0 202.8 L300.0 203.7 L297.9 204.7 L295.8 205.7 L293.6 206.9 L291.4 208.1 L289.4 209.3 L287.8 210.4 L286.5 211.5 L285.5 212.5 L282.6 213.8 L277.9 215.2 L271.2 217.0 L262.8 219.0 L254.2 220.8 L245.8 222.4 L237.2 223.9 L228.8 225.1 L221.4 226.5 L215.1 228.0 L210.0 229.6 L206.0 231.4 L202.5 233.2 L199.5 235.2 L197.0 237.4 L195.0 239.6 L193.7 241.5 L193.2 243.1 L193.3 244.3 L194.2 245.2 L195.3 245.5 L196.6 245.3Z" fill="#ffab00"/>
<path d="M307.6 130.0 L309.4 130.0 L311.0 130.2 L312.5 130.8 L313.9 131.5 L315.1 132.5 L316.2 133.7 L317.2 135.1 L318.1 136.6 L318.9 138.4 L319.5 140.1 L320.0 141.9 L320.4 143.6 L320.6 145.4 L320.6 147.0 L320.4 148.5 L319.9 149.9 L319.1 151.1 L318.2 152.2 L317.1 153.1 L315.8 153.8 L314.2 154.2 L312.8 154.6 L311.2 154.7 L309.8 154.6 L308.2 154.4 L307.0 153.6 L306.1 152.4 L305.4 150.6 L305.1 148.4 L304.8 145.8 L304.7 142.8 L304.7 139.4 L304.8 135.6 L305.3 132.8 L306.3 130.9Z" fill="#ff3a00"/>
<path d="M318.1 114.6 L320.9 114.9 L323.6 115.4 L326.2 116.0 L328.8 116.6 L331.2 117.4 L333.4 118.1 L335.2 118.9 L336.7 119.6 L337.8 120.4 L338.7 121.2 L339.2 122.0 L339.5 122.8 L339.5 123.7 L339.3 124.5 L338.8 125.2 L338.2 125.9 L337.3 126.6 L336.4 127.2 L335.5 127.8 L334.5 128.4 L333.5 129.1 L332.6 129.8 L331.7 130.6 L330.9 131.5 L330.1 132.5 L329.3 133.1 L328.4 133.4 L327.5 133.2 L326.5 132.8 L325.4 132.1 L324.3 131.2 L323.1 130.1 L321.9 128.9 L320.7 127.6 L319.6 126.2 L318.5 124.8 L317.5 123.2 L316.6 121.9 L315.7 120.6 L314.9 119.5 L314.1 118.5 L313.6 117.6 L313.4 116.7 L313.4 115.9 L313.6 115.1 L314.5 114.7 L316.0 114.5Z" fill="#ffcf00"/>
<path d="M319.1 144.1 L320.3 142.9 L321.6 141.7 L323.2 140.6 L325.0 139.5 L327.0 138.5 L329.0 137.8 L331.0 137.5 L333.0 137.6 L335.0 137.9 L336.9 138.5 L338.8 139.2 L340.6 140.2 L342.4 141.3 L344.0 142.6 L345.5 144.0 L346.9 145.6 L348.1 147.4 L348.8 149.0 L348.9 150.5 L348.5 151.9 L347.5 153.1 L346.4 154.4 L345.1 155.6 L343.8 156.9 L342.2 158.1 L340.7 159.2 L339.1 160.2 L337.4 161.1 L335.6 161.9 L333.8 162.4 L331.9 162.6 L330.0 162.6 L328.0 162.4 L326.1 161.9 L324.4 161.3 L322.8 160.5 L321.2 159.5 L320.0 158.4 L319.0 157.1 L318.2 155.8 L317.8 154.2 L317.4 152.8 L317.2 151.2 L317.1 149.8 L317.2 148.2 L317.6 146.8 L318.2 145.4Z" fill="#ffee00"/>
<ellipse cx="329" cy="149" rx="5" ry="3" fill="#e6ff30" stroke="#000" stroke-width="1.2"/>
<path d="M294.2 181.0 L297.8 181.0 L300.8 181.2 L303.4 181.8 L305.6 182.5 L307.4 183.5 L308.8 184.6 L309.9 185.9 L310.8 187.2 L311.2 188.8 L311.4 190.2 L311.3 191.6 L310.9 192.9 L310.1 194.1 L308.9 195.2 L307.1 196.1 L304.9 196.8 L302.1 197.2 L299.6 197.6 L297.2 197.7 L295.0 197.6 L293.0 197.4 L291.3 196.8 L289.9 195.8 L288.9 194.4 L288.1 192.6 L287.7 190.8 L287.6 188.8 L287.8 186.6 L288.2 184.4 L289.5 182.7 L291.5 181.6Z" fill="#ff3a00"/>
<path d="M199.1 240.2 L200.4 239.8 L202.3 239.2 L204.8 238.6 L207.8 237.9 L211.2 237.1 L214.6 236.5 L217.9 236.0 L221.1 235.7 L224.2 235.4 L227.7 235.1 L231.6 234.7 L236.0 234.1 L240.8 233.5 L245.4 232.9 L249.8 232.3 L253.9 231.9 L257.9 231.4 L261.9 231.0 L266.1 230.6 L270.4 230.1 L274.7 229.7 L278.6 229.2 L281.8 228.8 L284.6 228.4 L286.7 227.9 L289.0 227.5 L291.3 227.2 L293.8 226.8 L296.2 226.5 L299.1 225.8 L302.5 224.6 L306.1 223.1 L310.2 221.1 L314.0 219.4 L317.5 217.9 L320.8 216.6 L323.6 215.5 L326.5 214.3 L329.2 213.1 L331.8 211.7 L334.4 210.2 L336.6 208.7 L338.4 207.0 L339.8 205.3 L341.0 203.5 L341.7 201.7 L342.0 199.9 L342.0 198.1 L341.7 196.2 L340.8 194.8 L339.6 193.8 L337.8 193.2 L335.7 193.1 L333.3 193.1 L330.8 193.2 L328.1 193.6 L325.2 194.1 L322.2 194.7 L319.3 195.3 L316.4 196.0 L313.5 196.7 L310.8 197.5 L308.2 198.4 L305.8 199.4 L303.7 200.6 L301.7 201.6 L299.9 202.8 L298.2 203.8 L296.8 204.9 L295.4 206.0 L294.1 207.0 L292.9 207.9 L291.7 208.7 L290.5 209.5 L289.2 210.2 L287.8 210.8 L286.2 211.2 L285.1 212.1 L284.2 213.2 L283.6 214.6 L283.4 216.4 L281.1 217.9 L276.9 219.1 L270.6 220.1 L262.4 220.9 L254.1 221.8 L245.7 222.8 L237.2 223.9 L228.8 225.1 L221.4 226.5 L215.1 228.0 L210.0 229.6 L206.0 231.4 L202.4 232.8 L199.1 233.9 L196.2 234.8 L193.8 235.2 L192.3 235.9 L191.9 236.8 L192.6 237.9 L194.4 239.1 L196.0 239.9 L197.6 240.3Z" fill="#ffcf00"/>
<path d="M302.7 205.8 L305.3 204.4 L307.9 203.1 L310.7 202.0 L313.5 201.1 L316.4 200.4 L319.2 199.8 L322.0 199.4 L324.6 199.0 L327.2 198.9 L329.2 199.0 L330.8 199.3 L331.8 199.9 L332.3 200.8 L332.5 201.8 L332.3 202.8 L331.8 203.8 L330.9 204.9 L329.6 206.0 L328.1 207.0 L326.2 207.9 L324.1 208.8 L321.7 209.8 L319.1 210.7 L316.4 211.6 L313.5 212.5 L310.7 213.3 L307.9 214.1 L305.3 214.7 L302.7 215.2 L300.4 215.7 L298.2 216.2 L296.2 216.6 L294.3 216.9 L292.8 217.1 L291.5 217.0 L290.5 216.7 L289.8 216.1 L289.6 215.4 L290.0 214.6 L290.9 213.7 L292.4 212.6 L293.8 211.6 L295.0 210.7 L296.2 209.9 L297.3 209.1 L298.7 208.2 L300.5 207.1Z" fill="#ffee00"/>
<path d="M248.1 223.8 L252.9 223.2 L258.1 222.7 L263.9 222.0 L270.1 221.2 L276.9 220.3 L282.1 219.8 L285.9 219.8 L288.1 220.1 L288.9 220.9 L288.8 221.7 L287.9 222.5 L286.2 223.3 L283.8 224.2 L280.6 224.9 L276.9 225.6 L272.5 226.1 L267.5 226.4 L262.6 226.8 L257.7 227.0 L252.9 227.2 L248.1 227.3 L244.6 227.2 L242.2 226.9 L241.0 226.4 L241.0 225.6 L242.2 224.9 L244.6 224.3Z" fill="#ffee00"/>
<ellipse cx="320" cy="205" rx="6" ry="2.8" fill="#e6ff30" stroke="#000" stroke-width="1.2"/>
<path d="M381.8 564.0 L381.6 563.7 L381.2 563.0 L380.7 562.0 L379.9 560.6 L378.2 558.1 L375.7 554.5 L372.1 549.7 L367.7 543.7 L363.2 538.3 L358.8 533.5 L354.3 529.2 L349.8 525.5 L345.7 522.1 L342.0 519.2 L338.6 516.6 L335.7 514.3 L332.7 512.2 L329.7 510.1 L326.7 508.2 L323.8 506.3 L320.4 504.7 L316.7 503.4 L312.6 502.4 L308.1 501.6 L303.5 501.2 L298.6 501.2 L293.6 501.6 L288.4 502.4 L283.2 503.4 L278.0 504.7 L272.8 506.3 L267.6 508.2 L262.2 510.3 L256.6 512.6 L250.9 515.1 L244.9 517.9 L239.0 520.4 L233.0 522.8 L227.0 525.0 L221.0 527.0 L215.9 528.8 L211.6 530.4 L208.2 531.9 L205.8 533.1 L204.5 533.6 L204.5 533.4 L205.8 532.4 L208.2 530.6 L210.9 528.4 L213.6 525.8 L216.5 522.8 L219.5 519.2 L222.1 516.4 L224.4 514.3 L226.2 512.9 L227.8 512.1 L229.6 510.8 L231.9 508.9 L234.5 506.5 L237.4 503.5 L240.6 500.1 L243.9 496.4 L247.5 492.3 L251.2 487.9 L254.5 483.9 L257.3 480.4 L259.6 477.3 L261.4 474.7 L261.8 472.5 L260.7 470.6 L258.1 469.1 L254.0 468.0 L249.8 467.1 L245.6 466.6 L241.2 466.3 L236.7 466.3 L232.9 466.0 L229.8 465.5 L227.4 464.7 L225.6 463.6 L224.8 462.1 L224.8 460.3 L225.6 458.0 L227.4 455.4 L229.1 453.0 L230.7 451.0 L232.2 449.2 L233.8 447.7 L235.6 445.7 L237.9 443.1 L240.5 439.9 L243.4 436.2 L246.6 432.3 L249.9 428.2 L253.5 423.9 L257.1 419.4 L261.0 415.2 L265.1 411.3 L269.4 407.7 L273.9 404.3 L278.4 401.4 L282.8 399.0 L287.3 397.1 L291.8 395.6 L296.3 394.4 L300.7 393.5 L305.2 392.8 L309.6 392.5 L313.8 392.3 L317.7 392.3 L321.3 392.5 L324.7 392.8 L327.8 393.1 L330.8 393.2 L333.7 393.1 L336.3 393.0 L338.4 391.4 L339.9 388.4 L340.8 384.0 L341.1 378.1 L341.1 372.8 L340.8 367.9 L340.2 363.5 L339.2 359.7 L338.4 355.8 L337.6 351.9 L336.8 348.0 L336.2 344.1 L335.8 339.9 L335.8 335.4 L336.2 330.5 L336.8 325.4 L337.8 320.5 L339.1 316.0 L340.7 311.8 L342.6 307.9 L344.7 304.8 L347.0 302.3 L349.4 300.6 L352.0 299.7 L355.6 298.8 L360.1 298.0 L365.6 297.2 L372.0 296.6 L378.5 295.9 L384.9 295.3 L391.4 294.6 L397.9 294.0 L403.2 293.2 L407.4 292.2 L410.5 291.1 L412.5 289.8 L414.2 288.0 L415.6 285.5 L416.9 282.5 L417.8 279.0 L418.6 275.2 L419.1 271.1 L419.3 266.8 L419.3 262.3 L419.6 258.5 L420.3 255.6 L421.2 253.4 L422.5 251.9 L424.0 251.6 L425.8 252.2 L427.8 253.9 L430.1 256.6 L432.2 259.1 L434.1 261.5 L435.9 263.6 L437.6 265.6 L438.5 267.4 L438.9 269.2 L438.5 270.9 L437.6 272.5 L437.8 273.8 L439.3 274.7 L441.9 275.4 L445.8 275.7 L448.6 275.1 L450.4 273.7 L451.1 271.4 L450.8 268.1 L450.5 265.2 L450.4 262.4 L450.3 259.9 L450.3 257.6 L450.9 255.8 L452.0 254.5 L453.7 253.7 L456.0 253.4 L458.2 253.4 L460.3 253.7 L462.3 254.4 L464.2 255.3 L465.8 256.6 L467.1 258.3 L468.1 260.2 L468.7 262.5 L469.5 265.1 L470.3 268.0 L471.2 271.2 L472.1 274.8 L472.1 277.5 L471.2 279.5 L469.2 280.6 L466.3 280.9 L463.4 281.3 L460.3 281.8 L457.1 282.4 L453.9 283.0 L451.0 284.0 L448.4 285.3 L446.1 286.9 L444.2 288.8 L442.7 290.8 L441.8 292.9 L441.3 295.1 L441.3 297.4 L441.6 299.4 L442.3 301.2 L443.2 302.8 L444.5 304.0 L445.9 304.5 L447.5 304.0 L449.3 302.6 L451.3 300.3 L453.4 298.5 L455.6 297.2 L458.1 296.4 L460.6 296.1 L462.6 296.3 L463.9 297.1 L464.5 298.5 L464.5 300.5 L463.9 302.7 L462.6 305.1 L460.6 307.8 L458.1 310.6 L455.2 313.2 L451.9 315.2 L448.4 317.0 L444.5 318.2 L440.5 319.7 L436.3 321.3 L431.9 323.1 L427.4 325.1 L423.3 327.2 L419.8 329.4 L416.7 331.9 L414.1 334.4 L411.9 337.2 L410.1 340.1 L408.7 343.2 L407.8 346.4 L407.1 349.8 L406.8 353.4 L406.8 357.1 L407.1 361.0 L408.2 364.2 L410.0 366.8 L412.5 368.8 L415.7 370.0 L419.3 371.2 L423.2 372.1 L427.4 372.9 L431.9 373.6 L436.8 374.3 L442.2 375.2 L447.9 376.2 L454.0 377.2 L459.5 377.8 L464.3 377.8 L468.6 377.2 L472.1 376.2 L475.2 374.7 L477.8 372.8 L479.9 370.6 L481.5 368.1 L482.9 365.2 L484.2 361.9 L485.4 358.4 L486.3 354.5 L487.2 350.5 L488.0 346.3 L488.8 341.9 L489.4 337.4 L490.0 332.9 L490.5 328.3 L490.9 323.8 L491.2 319.2 L491.6 315.0 L492.0 311.2 L492.6 307.8 L493.1 304.6 L493.9 302.5 L494.8 301.1 L495.9 300.8 L497.1 301.2 L498.5 301.5 L500.0 301.5 L501.6 301.2 L503.4 300.8 L505.1 300.3 L506.7 299.9 L508.2 299.6 L509.8 299.4 L511.6 298.9 L513.7 298.1 L516.1 297.1 L518.9 295.9 L521.4 294.6 L523.8 293.2 L526.0 291.8 L528.0 290.2 L530.1 288.8 L532.2 287.2 L534.4 285.8 L536.6 284.2 L538.9 282.7 L541.1 281.1 L543.4 279.4 L545.6 277.6 L547.9 275.5 L550.1 273.0 L552.4 270.1 L554.6 266.9 L557.1 263.6 L559.7 260.2 L562.5 256.8 L565.5 253.2 L568.6 249.8 L571.9 246.2 L575.2 242.8 L578.8 239.2 L581.8 236.4 L584.2 234.2 L586.2 232.7 L587.8 231.8 L589.5 230.5 L591.6 228.8 L593.9 226.6 L596.6 223.9 L599.2 221.8 L601.8 220.1 L604.4 218.8 L607.1 218.0 L609.6 217.3 L611.9 216.8 L614.2 216.4 L616.2 216.2 L618.0 216.3 L619.5 216.8 L620.6 217.8 L621.4 219.0 L621.7 220.5 L621.6 222.2 L621.0 224.1 L620.0 226.3 L619.1 228.5 L618.3 230.9 L617.6 233.4 L617.1 236.0 L616.9 239.3 L617.0 243.3 L617.5 247.9 L618.2 253.1 L619.1 257.7 L620.0 261.7 L621.0 264.9 L622.0 267.6 L623.3 270.3 L624.9 273.2 L626.8 276.2 L628.8 279.4 L631.0 282.1 L633.1 284.5 L635.2 286.5 L637.3 288.0 L639.3 289.7 L641.2 291.4 L642.9 293.2 L644.4 295.0 L645.4 296.0 L645.6 296.0 L645.2 295.0 L644.2 293.2 L643.3 291.1 L642.5 288.9 L641.8 286.5 L641.3 283.8 L640.8 280.8 L640.2 277.4 L639.7 273.6 L639.2 269.4 L638.7 264.8 L638.3 259.8 L638.0 254.4 L637.7 248.7 L637.7 244.0 L638.0 240.5 L638.5 238.0 L639.3 236.7 L640.6 235.7 L642.3 235.0 L644.4 234.7 L647.1 234.7 L649.7 235.1 L652.3 235.9 L654.9 237.1 L657.6 238.6 L659.0 240.3 L659.3 242.2 L658.3 244.1 L656.2 246.3 L654.6 248.2 L653.4 250.1 L652.7 251.8 L652.4 253.3 L652.5 254.6 L653.1 255.7 L654.0 256.5 L655.3 257.0 L656.8 258.1 L658.5 259.8 L660.4 262.2 L662.6 265.1 L664.8 268.1 L667.1 271.2 L669.6 274.5 L672.1 277.9 L674.1 280.5 L675.4 282.1 L676.0 283.0" fill="none" stroke="#000" stroke-width="1.30" stroke-linejoin="round"/>
<path d="M226.0 564.0 L226.1 563.8 L226.4 563.2 L226.8 562.5 L227.2 561.5 L227.8 560.4 L228.2 559.1 L228.8 557.8 L229.2 556.2 L230.5 554.8 L232.5 553.2 L235.2 551.8 L238.8 550.2 L242.6 549.1 L246.9 548.2 L251.5 547.6 L256.5 547.4 L261.7 547.4 L267.0 547.8 L272.4 548.5 L278.1 549.5 L283.0 550.3 L287.2 550.9 L290.8 551.4 L293.6 551.6 L296.7 551.8 L300.1 551.8 L303.7 551.6 L307.5 551.4 L310.8 550.7 L313.5 549.7 L315.6 548.3 L317.1 546.4 L318.1 544.3 L318.6 541.9 L318.7 539.2 L318.4 536.3 L317.6 533.1 L316.5 529.8 L315.0 526.2 L313.2 522.5 L312.3 519.4 L312.5 517.0 L313.7 515.2 L316.0 514.1 L318.2 513.4 L320.4 513.2 L322.6 513.5 L324.9 514.3 L327.8 516.0 L331.5 518.9 L336.0 522.7 L341.2 527.5 L346.2 532.5 L351.1 537.5 L355.7 542.6 L360.2 547.8 L363.9 552.2 L366.9 555.9 L369.1 558.8 L370.6 560.8 L371.8 562.4 L372.5 563.5 L372.9 564.0" fill="none" stroke="#000" stroke-width="1.30" stroke-linejoin="round"/>
<path d="M321.0 354.0 L320.5 353.7 L319.5 353.1 L317.9 352.2 L315.9 350.9 L313.9 349.5 L312.0 347.7 L310.1 345.8 L308.3 343.5 L306.4 341.3 L304.4 339.1 L302.3 336.9 L300.0 334.6 L298.4 332.4 L297.3 330.2 L296.7 328.0 L296.7 325.7 L296.8 323.7 L297.0 321.9 L297.4 320.4 L297.8 319.0 L298.0 317.5 L297.9 315.7 L297.5 313.7 L296.8 311.4 L296.7 309.1 L297.1 306.7 L298.2 304.1 L299.7 301.4 L301.4 298.7 L303.0 296.1 L304.8 293.4 L306.5 290.7 L308.3 288.4 L310.1 286.4 L311.9 284.7 L313.6 283.4 L315.4 282.5 L317.0 282.1 L318.7 282.1 L320.2 282.5 L321.2 283.2 L321.5 284.1 L321.2 285.2 L320.4 286.5 L319.6 288.0 L319.1 289.5 L318.7 291.2 L318.4 292.9 L318.5 294.9 L318.8 297.2 L319.4 299.6 L320.3 302.3 L321.4 304.9 L322.5 307.3 L323.7 309.6 L325.0 311.9 L326.2 314.1 L327.2 316.3 L328.0 318.5 L328.7 320.8 L329.1 323.2 L329.4 325.9 L329.4 328.8 L329.1 331.9 L329.0 335.0 L328.9 338.2 L328.8 341.3 L328.8 344.4 L328.3 347.1 L327.3 349.2 L325.9 350.9 L323.9 352.2 L322.5 353.1 L321.5 353.7 L321.0 354.0" fill="none" stroke="#000" stroke-width="1.30" stroke-linejoin="round"/>
<path d="M676.0 365.4 L675.5 366.1 L674.7 367.4 L673.3 369.5 L671.5 372.2 L669.5 375.2 L667.2 378.3 L664.7 381.7 L662.0 385.4 L658.8 389.0 L655.2 392.6 L651.1 396.2 L646.6 399.9 L641.8 403.0 L636.8 405.7 L631.6 408.0 L626.2 409.8 L620.7 410.9 L615.3 411.4 L609.9 411.2 L604.4 410.2 L599.2 409.1 L594.2 407.8 L589.5 406.2 L584.9 404.3 L580.4 402.7 L575.8 401.4 L571.2 400.2 L566.7 399.3 L562.5 398.3 L558.7 397.3 L555.3 396.2 L552.4 395.1 L549.3 394.1 L546.1 393.4 L542.9 392.8 L539.5 392.5 L536.2 392.3 L532.8 392.3 L529.5 392.5 L526.2 392.8 L522.0 393.2 L517.0 393.6 L511.1 394.0 L504.4 394.3 L497.6 394.8 L490.5 395.4 L483.2 396.0 L475.8 396.8 L468.6 397.6 L461.7 398.4 L455.1 399.2 L448.8 400.1 L444.3 401.1 L441.7 402.2 L441.0 403.4 L442.1 404.8 L443.3 406.3 L444.6 408.1 L446.1 410.1 L447.6 412.4 L448.9 414.8 L450.0 417.4 L450.9 420.2 L451.6 423.1 L451.6 425.8 L450.8 428.2 L449.4 430.4 L447.1 432.2 L445.8 434.3 L445.5 436.5 L446.1 438.9 L447.6 441.6 L449.2 444.3 L451.1 447.1 L453.1 450.0 L455.4 452.9 L458.0 455.4 L461.0 457.5 L464.5 459.0 L468.4 460.2 L472.2 460.8 L475.9 461.0 L479.5 460.7 L483.1 459.9 L486.4 459.3 L489.5 458.7 L492.3 458.3 L494.9 457.9 L496.4 457.4 L496.8 456.6 L496.0 455.7 L494.2 454.6 L492.3 453.4 L490.5 452.1 L488.6 450.7 L486.8 449.2 L485.2 447.5 L483.9 445.7 L482.9 443.6 L482.1 441.4 L481.8 439.5 L481.8 437.9 L482.1 436.7 L482.9 435.8 L484.1 435.2 L485.8 435.0 L487.9 435.2 L490.5 435.7 L493.4 436.6 L496.5 437.8 L500.0 439.3 L503.7 441.2 L507.8 443.2 L512.3 445.5 L517.1 447.9 L522.3 450.5 L526.8 453.0 L530.5 455.4 L533.4 457.7 L535.7 460.0 L537.5 462.7 L539.0 465.8 L540.1 469.4 L540.9 473.6 L542.0 476.8 L543.5 479.2 L545.3 480.8 L547.6 481.5 L549.0 482.6 L549.8 484.1 L549.8 486.0 L549.0 488.2 L547.9 490.4 L546.4 492.4 L544.6 494.4 L542.3 496.2 L539.4 498.2 L535.7 500.2 L531.2 502.3 L526.0 504.6 L520.8 506.3 L515.6 507.6 L510.4 508.5 L505.2 508.8 L500.7 508.7 L497.0 508.2 L494.0 507.2 L491.8 505.7 L489.6 505.1 L487.6 505.3 L485.6 506.3 L483.8 508.1 L482.7 510.1 L482.3 512.1 L482.7 514.2 L483.8 516.5 L486.1 518.4 L489.7 520.1 L494.4 521.5 L500.4 522.6 L505.8 523.3 L510.6 523.5 L514.9 523.2 L518.6 522.4 L522.3 521.4 L526.0 520.1 L529.7 518.5 L533.4 516.7 L537.1 514.7 L540.9 512.7 L544.6 510.6 L548.3 508.3 L552.0 506.5 L555.8 505.0 L559.5 503.9 L563.2 503.1 L566.2 502.9 L568.4 503.3 L569.9 504.2 L570.6 505.7 L570.8 507.2 L570.4 508.7 L569.5 510.1 L568.0 511.6 L566.0 513.1 L563.4 514.6 L560.2 516.1 L556.5 517.6 L552.6 519.8 L548.5 522.8 L544.2 526.5 L539.8 531.0 L535.5 534.8 L531.4 538.0 L527.5 540.5 L523.8 542.3 L520.5 543.8 L517.7 544.9 L515.4 545.7 L513.5 546.0 L512.1 546.7 L511.2 547.6 L510.7 548.9 L510.7 550.4 L511.5 551.6 L513.1 552.5 L515.5 553.2 L518.7 553.5 L522.4 553.6 L526.7 553.4 L531.6 553.0 L536.9 552.2 L542.8 551.4 L549.2 550.4 L556.1 549.4 L563.6 548.3 L570.7 547.3 L577.6 546.6 L584.2 546.0 L590.5 545.6 L595.5 545.4 L599.2 545.5 L601.5 545.8 L602.5 546.2 L603.5 547.1 L604.5 548.4 L605.5 550.0 L606.5 552.0 L607.4 554.1 L608.3 556.2 L609.1 558.4 L609.9 560.6 L610.4 562.3 L610.8 563.4 L611.0 564.0" fill="none" stroke="#000" stroke-width="1.30" stroke-linejoin="round"/>
<path d="M559.2 350.8 L559.4 350.1 L559.9 348.6 L560.6 346.4 L561.6 343.6 L562.3 340.4 L562.8 337.0 L563.0 333.3 L563.0 329.4 L563.6 325.8 L564.8 322.4 L566.6 319.2 L569.1 316.4 L571.7 314.0 L574.6 312.1 L577.8 310.8 L581.2 310.1 L585.0 310.0 L589.1 310.8 L593.6 312.2 L598.4 314.5 L602.2 316.7 L604.9 319.1 L606.5 321.4 L607.0 323.9 L606.5 326.0 L605.0 328.0 L602.6 329.7 L599.2 331.1 L595.4 332.6 L591.3 334.0 L586.8 335.5 L582.0 337.0 L577.9 338.6 L574.5 340.3 L571.8 342.1 L569.8 344.0 L567.9 345.7 L565.9 347.1 L564.0 348.4 L562.1 349.3 L560.6 350.1 L559.7 350.6 L559.2 350.8" fill="none" stroke="#000" stroke-width="1.30" stroke-linejoin="round"/>
<path d="M499.6 55.0 L498.9 55.2 L497.4 55.6 L495.2 56.2 L492.3 57.0 L490.0 58.2 L488.2 59.7 L486.9 61.5 L486.1 63.7 L484.8 65.7 L483.0 67.4 L480.7 68.8 L477.8 70.1 L474.8 71.3 L471.8 72.6 L468.7 73.9 L465.5 75.1 L462.8 76.5 L460.4 78.0 L458.4 79.5 L456.9 81.0 L455.3 82.9 L453.7 85.0 L452.1 87.4 L450.5 90.0 L448.8 92.6 L447.1 95.1 L445.4 97.5 L443.5 99.9 L441.8 102.1 L440.1 104.2 L438.4 106.2 L436.9 108.0 L435.7 109.6 L435.1 110.9 L434.9 112.0 L435.1 112.7 L435.7 113.5 L436.6 114.3 L437.9 115.1 L439.4 115.9 L440.6 116.8 L441.2 117.9 L441.4 119.0 L441.2 120.3 L440.3 121.7 L438.7 123.2 L436.4 124.7 L433.6 126.2 L430.9 127.7 L428.5 129.0 L426.3 130.2 L424.4 131.2 L422.5 131.9 L420.7 132.1 L418.9 132.0 L417.2 131.5 L415.2 130.9 L412.9 130.2 L410.2 129.5 L407.3 128.8 L404.7 127.9 L402.4 126.9 L400.4 125.9 L398.6 124.7 L396.9 123.6 L395.3 122.5 L393.8 121.5 L392.2 120.5 L391.0 119.2 L390.0 117.8 L389.2 116.0 L388.8 114.0 L388.3 112.0 L387.9 110.0 L387.6 108.0 L387.4 106.0 L386.9 104.3 L386.1 102.8 L385.1 101.7 L383.9 100.8 L382.3 100.2 L380.4 99.8 L378.2 99.7 L375.8 99.8 L373.8 100.0 L372.4 100.3 L371.6 100.8 L371.4 101.2 L371.2 102.1 L371.2 103.2 L371.4 104.6 L371.6 106.4 L372.1 108.2 L372.7 110.1 L373.5 112.0 L374.5 114.0 L375.6 115.8 L376.9 117.4 L378.2 118.9 L379.8 120.1 L381.5 121.4 L383.5 122.8 L385.8 124.2 L388.2 125.8 L390.8 127.2 L393.4 128.8 L396.1 130.2 L398.9 131.8 L401.3 133.2 L403.4 134.4 L405.2 135.6 L406.6 136.8 L407.8 137.9 L408.8 139.1 L409.6 140.4 L410.1 141.7 L410.3 143.0 L410.2 144.2 L409.7 145.3 L409.0 146.3 L408.0 147.3 L406.8 148.2 L405.4 149.1 L403.9 149.8 L402.1 150.8 L400.3 152.0 L398.3 153.4 L396.2 154.9 L394.1 156.7 L392.0 158.7 L389.9 160.9 L387.8 163.2 L385.8 165.5 L383.8 167.8 L381.9 169.9 L380.1 172.0 L378.6 174.0 L377.4 175.9 L376.5 177.6 L376.0 179.1 L375.9 180.8 L376.1 182.5 L376.8 184.3 L377.8 186.1 L378.9 188.0 L379.9 190.0 L381.0 192.1 L382.0 194.2 L382.6 196.2 L382.8 198.4 L382.4 200.4 L381.7 202.6 L380.5 204.8 L379.1 207.1 L377.3 209.6 L375.2 212.3 L373.2 214.6 L371.4 216.7 L369.6 218.6 L368.1 220.1 L366.6 222.0 L365.3 224.0 L364.1 226.3 L363.1 228.8 L361.9 230.7 L360.5 231.8 L359.0 232.3 L357.3 232.1 L355.2 232.0 L352.8 232.1 L349.9 232.3 L346.7 232.6 L343.4 233.0 L340.2 233.5 L337.0 234.1 L333.7 234.7 L330.8 235.4 L328.0 236.0 L325.5 236.7 L323.2 237.3 L321.2 238.0 L319.4 238.6 L317.9 239.3 L316.6 239.9 L315.5 240.7 L314.6 241.5 L313.9 242.4 L313.4 243.3 L312.9 244.5 L312.4 245.8 L311.9 247.2 L311.4 248.9 L310.9 250.4 L310.3 251.9 L309.7 253.2 L309.1 254.5 L308.4 256.1 L307.7 257.8 L306.9 259.7 L306.2 261.8 L305.4 264.0 L304.6 266.3 L303.9 268.8 L303.1 271.2 L302.0 273.5 L300.4 275.4 L298.5 277.0 L296.1 278.3 L294.1 279.7 L292.3 281.0 L290.9 282.4 L289.7 283.9 L288.3 285.1 L286.6 286.1 L284.6 286.8 L282.4 287.4 L280.3 287.9 L278.3 288.5 L276.5 289.1 L274.8 289.6 L273.4 290.3 L272.4 291.0 L271.8 291.8 L271.5 292.7 L271.7 293.6 L272.4 294.5 L273.6 295.5 L275.4 296.5 L277.2 297.5 L279.2 298.5 L281.4 299.5 L283.6 300.5 L285.2 301.6 L286.2 302.7 L286.6 303.9 L286.4 305.1 L285.8 306.3 L284.8 307.4 L283.4 308.5 L281.6 309.5 L279.6 310.4 L277.4 311.1 L274.9 311.8 L272.1 312.2 L269.5 312.9 L267.0 313.8 L264.6 314.9 L262.4 316.1 L260.2 317.3 L258.2 318.4 L256.2 319.5 L254.3 320.5 L252.6 321.8 L251.1 323.2 L249.8 325.0 L248.7 327.0 L247.7 329.3 L246.7 331.9 L245.9 334.9 L245.1 338.1 L243.5 341.2 L240.9 344.0 L237.4 346.6 L232.9 349.1 L229.4 351.3 L226.8 353.5 L225.1 355.4 L224.2 357.3 L224.1 358.5 L224.6 359.3 L225.7 359.4 L227.5 359.1 L229.9 358.8 L233.0 358.8 L236.8 358.9 L241.1 359.1 L244.5 359.6 L247.0 360.4 L248.4 361.3 L248.9 362.6 L248.9 363.8 L248.4 365.2 L247.4 366.6 L246.0 368.0 L244.0 369.5 L241.6 370.9 L238.7 372.4 L235.3 373.8 L232.0 375.1 L228.9 376.2 L225.8 377.1 L222.9 377.8 L220.6 378.8 L218.9 380.0 L217.8 381.4 L217.3 383.1 L216.5 384.9 L215.3 386.7 L213.7 388.6 L211.7 390.6 L209.8 392.4 L208.0 394.2 L206.1 395.9 L204.4 397.6 L202.3 399.4 L199.9 401.4 L197.3 403.6 L194.4 406.1 L191.8 408.5 L189.6 410.9 L187.8 413.3 L186.4 415.8 L185.2 418.3 L184.2 421.0 L183.5 423.8 L183.0 426.7 L182.8 429.8 L182.8 432.9 L183.0 436.2 L183.5 439.6 L184.2 442.9 L185.2 446.0 L186.4 449.1 L187.8 451.9 L189.1 454.6 L190.2 457.0 L191.1 459.2 L191.8 461.2 L191.8 463.4 L191.1 465.8 L189.6 468.5 L187.5 471.3 L185.3 473.3 L183.2 474.3 L181.1 474.3 L179.1 473.4 L176.8 472.7 L174.3 472.2 L171.5 472.0 L168.5 472.0 L165.8 472.4 L163.2 473.1 L161.0 474.2 L159.0 475.8 L156.9 477.5 L154.6 479.5 L152.2 481.8 L149.8 484.2 L147.8 486.6 L146.2 488.9 L145.2 491.0 L144.8 493.0 L143.9 495.2 L142.6 497.8 L141.0 500.5 L139.0 503.5 L137.0 506.3 L135.0 508.9 L133.0 511.4 L131.0 513.6 L129.2 515.4 L127.8 516.8 L126.5 517.8 L125.5 518.2 L124.8 518.6 L124.2 518.9 L124.0 519.0" fill="none" stroke="#000" stroke-width="1.30" stroke-linejoin="round"/>
<path d="M406.0 55.0 L405.2 55.8 L403.8 57.4 L401.5 59.7 L398.5 62.9 L395.8 65.3 L393.3 67.0 L391.2 68.0 L389.3 68.3 L387.4 68.7 L385.5 69.4 L383.5 70.2 L381.6 71.2 L379.7 72.2 L378.0 73.1 L376.5 74.0 L375.0 74.8 L373.6 75.4 L372.2 75.7 L370.8 75.7 L369.4 75.4 L368.0 75.3 L366.6 75.4 L365.2 75.6 L363.7 76.1 L362.2 76.7 L360.7 77.4 L359.1 78.4 L357.4 79.5 L355.6 80.8 L354.0 82.2 L352.3 83.8 L350.5 85.4 L348.8 87.1 L347.2 88.6 L345.5 90.1 L343.7 91.6 L342.1 92.8 L340.5 93.8 L338.9 94.6 L337.3 95.1 L335.9 95.8 L334.4 96.6 L333.1 97.5 L331.9 98.5 L330.8 99.6 L330.0 100.7 L329.4 101.9 L329.1 103.1 L328.9 104.3 L328.9 105.4 L329.1 106.5 L329.4 107.5 L330.3 108.4 L331.8 109.3 L333.8 110.1 L336.2 110.9 L338.9 111.4 L341.8 111.6 L344.9 111.6 L348.1 111.4 L351.3 110.9 L354.4 110.1 L357.5 109.1 L360.5 107.9 L362.9 107.1 L364.6 106.9 L365.8 107.1 L366.2 107.9 L366.8 108.8 L367.2 109.8 L367.8 110.9 L368.2 112.1 L368.8 113.5 L369.4 115.0 L370.1 116.6 L370.9 118.4 L371.7 119.9 L372.6 121.3 L373.5 122.5 L374.5 123.5 L375.8 124.6 L377.2 125.7 L379.0 126.9 L381.0 128.1 L383.0 129.2 L385.0 130.2 L387.0 131.1 L389.0 131.9 L391.0 132.6 L393.0 133.2 L395.0 133.8 L397.0 134.2 L398.8 134.8 L400.4 135.5 L401.7 136.3 L402.9 137.1 L403.8 138.2 L404.5 139.4 L405.0 140.8 L405.3 142.3 L405.1 143.8 L404.4 145.1 L403.3 146.3 L401.8 147.3 L400.1 148.4 L398.2 149.6 L396.2 150.9 L394.2 152.2 L392.1 153.7 L389.9 155.2 L387.8 156.9 L385.8 158.8 L383.7 160.7 L381.7 162.8 L379.8 165.1 L378.0 167.4 L376.4 169.8 L375.1 172.2 L374.0 174.6 L373.2 176.9 L372.6 179.2 L372.3 181.5 L372.2 183.6 L372.3 185.8 L372.5 187.9 L372.8 189.9 L373.1 192.1 L373.4 194.2 L373.6 196.4 L373.5 198.7 L373.2 201.2 L372.8 203.9 L372.0 206.4 L371.0 208.7 L369.7 210.9 L368.1 213.1 L366.4 215.0 L364.6 216.9 L362.6 218.6 L360.5 220.1 L358.1 221.7 L355.4 223.4 L352.5 225.0 L349.2 226.7 L345.8 228.3 L342.3 229.8 L338.6 231.1 L334.7 232.5 L330.9 233.7 L327.3 234.8 L323.7 235.9 L320.2 237.0 L317.1 237.9 L314.4 238.9 L312.0 239.8 L310.0 240.7 L308.3 241.7 L306.9 242.7 L305.9 243.9 L305.1 245.1 L304.6 246.5 L304.4 248.1 L304.4 249.7 L304.6 251.6 L304.6 253.4 L304.3 255.1 L303.7 256.8 L302.9 258.5 L301.7 260.0 L300.1 261.4 L298.2 262.7 L296.0 263.9 L293.7 265.0 L291.2 266.0 L288.8 266.9 L286.2 267.7 L283.7 268.6 L281.3 269.4 L279.0 270.3 L276.7 271.1 L274.8 272.0 L273.2 273.0 L271.9 274.1 L270.9 275.3 L270.1 276.6 L269.6 278.2 L269.1 280.0 L268.9 282.0 L268.7 284.0 L268.5 286.0 L268.3 288.0 L268.2 290.0 L268.0 291.9 L267.8 293.8 L267.4 295.6 L267.1 297.4 L266.6 298.9 L266.0 300.1 L265.3 301.1 L264.6 301.9 L263.3 302.8 L261.7 303.9 L259.6 305.2 L257.0 306.7 L254.9 308.1 L253.3 309.3 L252.1 310.5 L251.4 311.6 L250.8 313.0 L250.2 314.8 L249.8 317.0 L249.4 319.6 L248.4 321.7 L246.8 323.4 L244.4 324.8 L241.5 325.6 L238.9 325.8 L236.7 325.3 L234.9 324.0 L233.5 322.0 L232.2 320.1 L230.9 318.1 L229.8 316.3 L228.6 314.5 L227.4 312.8 L225.9 311.2 L224.3 309.6 L222.5 308.2 L220.8 307.5 L219.2 307.7 L217.6 308.7 L216.2 310.5 L214.6 312.5 L213.0 314.7 L211.2 317.0 L209.4 319.6 L207.6 322.0 L206.0 324.4 L204.4 326.7 L203.0 328.9 L201.6 331.5 L200.3 334.4 L199.0 337.8 L197.8 341.5 L197.1 345.1 L196.9 348.8 L197.1 352.5 L197.9 356.1 L199.0 359.7 L200.4 363.1 L202.2 366.3 L204.3 369.5 L206.2 372.5 L207.8 375.4 L209.1 378.1 L210.1 380.8 L210.4 383.3 L209.9 385.6 L208.6 387.9 L206.4 390.0 L203.4 392.3 L199.5 394.6 L194.6 397.1 L188.8 399.8 L183.4 402.1 L178.4 404.2 L173.8 406.1 L169.6 407.6 L165.5 409.2 L161.6 410.8 L157.8 412.4 L154.1 413.9 L150.7 415.4 L147.8 416.6 L145.3 417.7 L143.2 418.6 L141.6 419.3 L140.5 419.8 L140.0 420.0" fill="none" stroke="#000" stroke-width="1.30" stroke-linejoin="round"/>
<path d="M141.5 446.6 L142.6 446.3 L144.8 445.7 L148.1 444.8 L152.4 443.5 L156.2 443.2 L159.4 443.7 L161.9 445.0 L163.8 447.2 L165.3 449.3 L166.4 451.4 L167.1 453.4 L167.3 455.4 L167.2 457.2 L166.7 458.9 L165.9 460.5 L164.6 461.9 L162.8 463.7 L160.2 465.9 L157.0 468.5 L153.1 471.3 L149.5 474.3 L146.1 477.2 L143.0 480.1 L140.0 483.0 L137.4 486.1 L135.0 489.2 L132.8 492.5 L130.8 495.9 L129.1 498.6 L127.7 500.5 L126.4 501.8 L125.5 502.2 L124.7 502.6 L124.2 502.9 L124.0 503.0" fill="none" stroke="#000" stroke-width="1.30" stroke-linejoin="round"/>
<path d="M369.5 55.0 L369.1 55.2 L368.2 55.7 L367.0 56.3 L365.2 57.2 L363.4 58.2 L361.4 59.3 L359.3 60.6 L357.1 62.1 L354.8 63.6 L352.6 65.1 L350.3 66.8 L348.0 68.4 L345.8 70.1 L343.7 71.9 L341.6 73.6 L339.7 75.2 L337.6 76.9 L335.5 78.7 L333.3 80.3 L331.0 82.0 L328.7 83.8 L326.5 85.4 L324.2 87.2 L321.9 88.9 L319.9 90.3 L318.2 91.5 L316.8 92.5 L315.7 93.2 L314.7 94.0 L313.9 95.1 L313.2 96.4 L312.8 97.8 L312.4 98.9 L312.1 99.6 L312.0 100.0" fill="none" stroke="#000" stroke-width="1.30" stroke-linejoin="round"/>
<path d="M327.2 100.0 L327.8 100.4 L329.1 101.2 L331.1 102.4 L333.6 104.1 L336.5 105.7 L339.5 107.3 L342.9 108.9 L346.4 110.6 L349.6 112.1 L352.4 113.6 L354.7 114.9 L356.6 116.2 L357.9 117.5 L358.6 119.0 L358.6 120.5 L357.9 122.2 L357.0 123.8 L355.7 125.4 L354.1 127.0 L352.1 128.7 L350.5 130.3 L349.2 132.1 L348.3 133.8 L347.7 135.7 L347.5 136.8 L347.7 137.2 L348.4 136.8 L349.4 135.8 L350.9 135.0 L352.7 134.5 L354.9 134.2 L357.6 134.2 L360.2 134.3 L362.8 134.6 L365.4 135.0 L368.1 135.5 L370.8 136.3 L373.7 137.3 L376.8 138.7 L379.9 140.2 L382.7 141.6 L385.1 142.8 L387.1 143.8 L388.6 144.6 L389.7 145.5 L390.2 146.4 L390.2 147.4 L389.7 148.4 L388.8 149.5 L387.5 150.7 L385.8 151.9 L383.7 153.2 L381.7 154.5 L379.8 155.7 L378.1 156.8 L376.5 157.8 L374.8 158.8 L373.0 159.8 L371.1 160.8 L369.0 161.6 L367.1 162.6 L365.4 163.7 L363.8 164.9 L362.2 166.1 L361.2 167.7 L360.7 169.7 L360.6 172.1 L360.9 174.8 L361.5 177.8 L362.2 181.0 L363.2 184.4 L364.2 188.0 L364.9 191.6 L365.1 195.0 L364.8 198.4 L364.1 201.7 L363.0 204.8 L361.5 207.7 L359.7 210.4 L357.5 213.0 L355.0 215.5 L352.3 218.1 L349.3 220.6 L346.0 223.2 L342.7 225.4 L339.5 227.3 L336.2 228.9 L332.9 230.1 L329.6 231.4 L326.4 232.8 L323.1 234.2 L319.9 235.8 L316.7 237.2 L313.6 238.6 L310.5 239.9 L307.5 241.1 L304.8 242.2 L302.5 243.2 L300.6 243.9 L298.9 244.6 L297.3 245.3 L295.7 246.1 L294.1 247.0 L292.4 248.0 L290.7 249.2 L288.9 250.7 L287.0 252.3 L285.0 254.2 L283.1 256.1 L281.2 258.0 L279.4 260.0 L277.6 262.0 L276.0 264.0 L274.6 266.0 L273.3 268.0 L272.2 270.0 L271.2 272.1 L270.3 274.4 L269.6 276.8 L268.9 279.2 L268.3 281.7 L267.7 284.1 L267.1 286.4 L266.4 288.6 L265.6 290.8 L264.6 292.9 L263.4 295.0 L262.1 297.0 L260.7 298.7 L259.4 300.1 L258.1 301.1 L256.9 301.9 L255.4 302.6 L253.8 303.2 L252.0 303.8 L250.0 304.2 L247.9 304.4 L245.8 304.1 L243.5 303.4 L241.2 302.4 L239.1 301.4 L237.2 300.6 L235.4 299.8 L233.8 299.2 L232.2 298.4 L230.6 297.6 L229.0 296.7 L227.3 295.8 L225.8 294.7 L224.3 293.6 L223.0 292.4 L221.6 291.1 L220.6 289.8 L219.7 288.5 L219.0 287.2 L218.5 285.9 L218.2 284.6 L218.2 283.3 L218.3 282.0 L218.6 280.8 L218.8 279.7 L218.9 278.9 L218.8 278.3 L218.7 278.0 L218.4 277.8 L218.0 277.8 L217.5 278.0 L216.8 278.3 L216.1 278.8 L215.3 279.5 L214.4 280.3 L213.5 281.2 L212.6 282.4 L211.8 283.7 L211.0 285.1 L210.4 286.7 L209.9 288.4 L209.4 290.2 L209.2 292.0 L209.0 294.0 L209.1 295.8 L209.3 297.6 L209.7 299.3 L210.4 301.0 L210.7 302.6 L210.7 304.2 L210.4 305.9 L209.9 307.5 L209.1 309.2 L208.2 310.9 L207.1 312.6 L205.9 314.4 L204.6 316.2 L203.4 318.2 L202.1 320.3 L200.9 322.5 L199.8 324.7 L198.8 327.0 L197.9 329.2 L197.1 331.5 L196.4 333.9 L195.6 336.3 L194.9 338.8 L194.1 341.2 L193.2 343.5 L192.2 345.5 L191.1 347.2 L189.9 348.8 L188.3 350.0 L186.4 351.0 L184.2 351.8 L181.8 352.4 L179.4 352.8 L177.2 353.1 L175.2 353.2 L173.4 353.2 L171.3 353.1 L168.9 353.0 L166.2 352.8 L163.4 352.5 L160.7 352.4 L158.2 352.4 L155.9 352.5 L153.8 352.8 L152.2 353.0 L151.1 353.1 L150.6 353.2" fill="none" stroke="#000" stroke-width="1.30" stroke-linejoin="round"/>
<path d="M142.2 363.7 L142.7 363.7 L143.8 363.7 L145.3 363.7 L147.4 363.7 L149.8 363.7 L152.5 363.7 L155.4 363.7 L158.5 363.7 L161.6 364.0 L164.5 364.7 L167.2 365.7 L169.9 367.0 L172.4 368.5 L174.9 370.0 L177.4 371.7 L179.7 373.6 L181.3 375.5 L181.9 377.4 L181.7 379.4 L180.6 381.6 L179.2 383.8 L177.5 386.2 L175.5 388.7 L173.1 391.3 L170.6 393.7 L167.8 395.8 L164.9 397.7 L161.7 399.2 L158.8 400.8 L156.2 402.4 L153.8 404.0 L151.7 405.5 L149.7 406.2 L147.9 405.9 L146.1 404.8 L144.6 402.7 L143.4 401.1 L142.6 400.0 L142.2 399.5" fill="none" stroke="#000" stroke-width="1.30" stroke-linejoin="round"/>
<path d="M240.4 252.3 L239.9 252.4 L239.0 252.7 L237.5 253.0 L235.6 253.5 L233.7 254.1 L231.7 254.8 L229.8 255.7 L227.8 256.6 L226.1 257.7 L224.7 258.8 L223.4 260.1 L222.5 261.4 L221.6 262.7 L220.8 264.2 L220.0 265.7 L219.4 267.3 L218.7 268.8 L217.9 270.3 L217.0 271.6 L216.0 272.9 L215.0 274.2 L213.9 275.5 L212.7 276.8 L211.3 278.2 L210.1 279.5 L209.0 281.0 L207.9 282.5 L207.0 284.2 L206.1 285.9 L205.5 287.6 L205.0 289.5 L204.7 291.4 L204.5 293.3 L204.5 295.3 L204.7 297.2 L205.0 299.2 L205.5 301.1 L206.1 303.1 L207.0 305.0 L207.9 306.9 L208.3 308.5 L208.1 309.9 L207.4 310.9 L206.0 311.6 L204.6 312.0 L203.2 312.2 L201.7 312.0 L200.1 311.5 L198.1 310.9 L195.6 310.2 L192.7 309.3 L189.3 308.4 L186.1 307.4 L183.0 306.4 L180.2 305.4 L177.5 304.5 L174.7 304.1 L171.8 304.3 L168.8 305.2 L165.6 306.6 L163.1 308.1 L161.3 309.5 L160.2 311.0 L159.7 312.5 L159.6 314.0 L159.8 315.4 L160.4 316.9 L161.4 318.3 L162.6 319.5 L164.0 320.5 L165.7 321.2 L167.7 321.7 L168.9 322.3 L169.4 323.0 L169.1 323.9 L168.2 324.8 L166.7 325.8 L164.8 326.6 L162.3 327.4 L159.4 328.1 L156.6 328.7 L153.9 329.2 L151.3 329.5 L148.8 329.7 L146.9 329.9 L145.6 329.9 L145.0 330.0" fill="none" stroke="#000" stroke-width="1.30" stroke-linejoin="round"/>
<path d="M338.0 175.0 L338.5 175.0 L339.4 174.9 L340.8 174.9 L342.7 174.7 L344.6 174.8 L346.4 175.1 L348.3 175.5 L350.2 176.1 L352.0 177.0 L353.7 178.2 L355.2 179.6 L356.8 181.4 L358.0 183.5 L359.0 186.0 L359.8 188.9 L360.2 192.1 L360.3 195.2 L359.9 198.2 L359.1 201.1 L357.9 203.9 L356.4 206.6 L354.6 209.2 L352.6 211.8 L350.4 214.4 L347.8 216.8 L344.9 219.0 L341.8 221.1 L338.2 223.1 L334.7 224.9 L331.1 226.5 L327.4 228.1 L323.6 229.4 L319.9 230.8 L316.3 232.0 L312.8 233.2 L309.2 234.3 L306.0 235.5 L303.0 236.7 L300.2 237.9 L297.8 239.1 L295.3 240.5 L292.9 242.0 L290.6 243.6 L288.4 245.4 L286.2 247.2 L284.2 249.1 L282.4 251.0 L280.6 253.0 L278.9 255.1 L277.3 257.2 L275.8 259.4 L274.2 261.6 L272.9 263.9 L271.7 266.1 L270.7 268.4 L269.8 270.6 L269.0 272.9 L268.2 275.3 L267.6 277.8 L266.9 280.2 L266.2 282.6 L265.4 284.9 L264.5 287.0 L263.5 289.0 L262.0 290.8 L260.0 292.4 L257.5 293.9 L254.5 295.1 L251.5 296.0 L248.6 296.5 L245.8 296.5 L242.9 296.2 L240.5 295.9 L238.3 295.6 L236.5 295.2 L235.1 294.9 L233.8 294.4 L232.7 293.9 L231.8 293.2 L231.1 292.5 L230.6 291.8 L230.4 291.2 L230.5 290.6 L230.9 290.0 L231.9 289.7 L233.5 289.5 L235.8 289.5 L238.7 289.7 L241.2 289.6 L243.2 289.1 L244.7 288.4 L245.8 287.2 L246.5 286.2 L246.9 285.1 L246.9 283.9 L246.5 282.8 L245.8 281.7 L244.7 280.6 L243.3 279.6 L241.4 278.4 L239.8 277.2 L238.3 275.7 L237.1 274.1 L235.9 272.3 L235.2 270.5 L234.9 268.7 L234.9 266.9 L235.2 265.0 L235.8 263.2 L236.5 261.4 L237.4 259.6 L238.5 257.7 L239.3 256.2 L239.9 254.9 L240.2 254.0 L240.3 253.3 L240.3 252.8 L240.4 252.5 L240.4 252.3" fill="none" stroke="#000" stroke-width="1.30" stroke-linejoin="round"/>
<path d="M287.0 201.0 L287.7 201.0 L289.1 200.9 L291.1 200.8 L293.9 200.7 L296.7 200.5 L299.6 200.2 L302.5 199.8 L305.5 199.2 L308.0 198.5 L310.1 197.4 L311.7 196.1 L312.8 194.4 L313.7 192.8 L314.3 191.1 L314.7 189.4 L314.8 187.6 L315.2 186.1 L315.9 184.7 L316.9 183.5 L318.1 182.5 L319.7 181.6 L321.5 180.7 L323.6 179.9 L325.9 179.1 L328.2 178.4 L330.5 177.6 L332.7 176.9 L334.8 176.1 L336.4 175.6 L337.5 175.2 L338.0 175.0" fill="none" stroke="#000" stroke-width="1.30" stroke-linejoin="round"/>
<path d="M306.0 108.0 L306.3 107.9 L306.9 107.6 L307.9 107.2 L309.1 106.6 L310.9 106.4 L313.1 106.7 L315.8 107.2 L319.1 108.2 L322.3 109.0 L325.5 109.8 L328.7 110.6 L332.0 111.2 L335.0 112.0 L337.9 112.8 L340.7 113.7 L343.3 114.6 L345.4 115.6 L347.0 116.6 L348.1 117.6 L348.8 118.5 L349.2 119.5 L349.3 120.5 L349.2 121.5 L349.0 122.4 L348.5 123.5 L347.8 124.6 L347.0 125.8 L346.1 127.1 L345.2 128.4 L344.4 129.7 L343.6 130.9 L343.0 132.2 L342.6 133.5 L342.6 134.8 L343.0 136.2 L343.6 137.5 L344.4 138.8 L345.4 140.3 L346.5 141.8 L347.8 143.5 L349.0 145.0 L350.1 146.5 L351.2 147.8 L352.1 149.1 L352.6 150.4 L352.6 151.7 L352.1 152.9 L351.2 154.2 L349.9 155.6 L348.5 157.1 L346.8 158.6 L344.9 160.3 L343.1 161.8 L341.5 163.3 L340.0 164.7 L338.8 166.0 L337.6 167.1 L336.6 168.0 L335.8 168.8 L335.2 169.5 L334.1 170.0 L332.6 170.5 L330.8 171.0 L328.5 171.4 L326.1 171.6 L323.7 171.5 L321.2 171.2 L318.8 170.8 L316.3 170.1 L313.9 169.4 L311.6 168.5 L309.4 167.5 L307.7 166.8 L306.6 166.2 L306.0 166.0" fill="none" stroke="#000" stroke-width="1.30" stroke-linejoin="round"/>
<path d="M195.5 246.5 L195.9 246.2 L196.8 245.5 L198.1 244.5 L199.9 243.2 L201.7 242.3 L203.7 241.6 L205.8 241.2 L208.0 241.1 L209.8 241.2 L211.1 241.7 L211.9 242.4 L212.4 243.3 L212.6 244.4 L212.6 245.5 L212.4 246.8 L211.9 248.0 L212.2 249.2 L213.0 250.3 L214.6 251.3 L216.7 252.2 L219.1 252.7 L221.8 253.0 L224.6 252.9 L227.7 252.4 L230.5 252.2 L233.1 252.0 L235.3 252.0 L237.4 252.1 L239.0 252.4 L240.1 252.9 L240.9 253.5 L241.2 254.3 L241.2 255.1 L240.9 256.0 L240.2 257.0 L239.3 257.9 L238.4 259.0 L237.6 260.1 L236.9 261.3 L236.2 262.7 L235.8 264.0 L235.5 265.5 L235.3 267.0 L235.3 268.6 L235.5 270.2 L236.0 271.8 L236.7 273.4 L237.7 275.1 L238.7 276.5 L239.8 277.8 L241.0 279.0 L242.4 279.9 L243.5 280.8 L244.5 281.6 L245.3 282.4 L245.9 283.0 L246.6 283.7 L247.3 284.3 L248.1 285.0 L248.8 285.6 L249.8 286.1 L250.9 286.3 L252.2 286.4 L253.8 286.2 L255.2 285.7 L256.8 284.7 L258.2 283.4 L259.8 281.6 L261.1 279.8 L262.3 277.8 L263.3 275.6 L264.2 273.4 L265.0 271.1 L265.8 268.7 L266.4 266.2 L267.1 263.8 L267.8 261.3 L268.8 258.9 L269.9 256.6 L271.1 254.4 L272.6 252.3 L274.2 250.3 L276.0 248.6 L278.0 246.9 L280.1 245.4 L282.2 243.9 L284.5 242.4 L286.8 241.1 L289.0 239.8 L291.3 238.5 L293.5 237.3 L295.6 236.2 L297.9 235.1 L300.3 234.0 L302.7 233.0 L305.3 232.0 L308.1 230.9 L311.2 229.7 L314.6 228.4 L318.2 227.1 L321.7 225.7 L325.0 224.2 L328.1 222.8 L330.9 221.2 L333.7 219.7 L336.2 218.1 L338.6 216.4 L340.7 214.6 L342.7 212.8 L344.6 210.8 L346.2 208.6 L347.8 206.4 L349.0 204.1 L349.9 201.7 L350.6 199.2 L350.9 196.8 L351.1 194.4 L350.9 192.1 L350.6 190.0 L349.9 188.0 L349.0 186.2 L347.8 184.8 L346.4 183.5 L344.6 182.5 L342.7 182.1 L340.6 182.2 L338.2 182.9 L335.8 184.1 L333.2 185.4 L330.6 186.6 L327.9 187.9 L325.1 189.1 L322.6 190.4 L320.2 191.8 L318.0 193.2 L316.0 194.8 L314.0 196.2 L312.0 197.5 L310.0 198.7 L308.0 199.8 L306.0 200.9 L304.0 201.9 L302.0 202.8 L300.0 203.7 L297.9 204.7 L295.8 205.7 L293.6 206.9 L291.4 208.1 L289.7 209.1 L288.6 209.7 L288.0 210.0" fill="none" stroke="#000" stroke-width="1.30" stroke-linejoin="round"/>
<path d="M290.0 227.3 L290.6 227.2 L291.9 227.1 L293.8 226.8 L296.2 226.5 L299.1 225.8 L302.5 224.6 L306.1 223.1 L310.2 221.1 L314.0 219.4 L317.5 217.9 L320.8 216.6 L323.6 215.5 L326.5 214.3 L329.2 213.1 L331.8 211.7 L334.4 210.2 L336.6 208.7 L338.4 207.0 L339.8 205.3 L341.0 203.5 L341.7 201.7 L342.0 199.9 L342.0 198.1 L341.7 196.2 L340.8 194.8 L339.6 193.8 L337.8 193.2 L335.7 193.1 L333.3 193.1 L330.8 193.2 L328.1 193.6 L325.2 194.1 L322.2 194.7 L319.3 195.3 L316.4 196.0 L313.5 196.7 L310.8 197.5 L308.2 198.4 L305.8 199.4 L303.7 200.6 L301.7 201.6 L299.9 202.8 L298.2 203.8 L296.8 204.9 L295.4 206.0 L294.1 207.0 L292.9 207.9 L291.7 208.7 L290.9 209.4 L290.3 209.8 L290.0 210.0" fill="none" stroke="#000" stroke-width="1.30" stroke-linejoin="round"/>
<path d="M197.0 241.0 L197.3 240.9 L198.0 240.6 L199.1 240.2 L200.4 239.8 L202.3 239.2 L204.8 238.6 L207.8 237.9 L211.2 237.1 L214.6 236.5 L217.9 236.0 L221.1 235.7 L224.2 235.4 L227.7 235.1 L231.6 234.7 L236.0 234.1 L240.8 233.5 L245.4 232.9 L249.8 232.3 L253.9 231.9 L257.9 231.4 L261.9 231.0 L266.1 230.6 L270.4 230.1 L274.7 229.7 L278.0 229.3 L280.2 229.1 L281.3 229.0" fill="none" stroke="#000" stroke-width="1.30" stroke-linejoin="round"/>
<path d="M298.9 208.0 L299.5 207.6 L300.8 206.9 L302.7 205.8 L305.3 204.4 L307.9 203.1 L310.7 202.0 L313.5 201.1 L316.4 200.4 L319.2 199.8 L322.0 199.4 L324.6 199.0 L327.2 198.9 L329.2 199.0 L330.8 199.3 L331.8 199.9 L332.3 200.8 L332.5 201.8 L332.3 202.8 L331.8 203.8 L330.9 204.9 L329.6 206.0 L328.1 207.0 L326.2 207.9 L324.1 208.8 L321.7 209.8 L319.1 210.7 L316.4 211.6 L313.5 212.5 L310.7 213.3 L307.9 214.1 L305.3 214.7 L302.7 215.2 L300.4 215.7 L298.2 216.2 L296.2 216.6 L294.3 216.9 L292.8 217.1 L291.5 217.0 L290.5 216.7 L289.8 216.1 L289.6 215.4 L290.0 214.6 L290.9 213.7 L292.4 212.6 L293.5 211.8 L294.2 211.3 L294.6 211.0" fill="none" stroke="#000" stroke-width="1.30" stroke-linejoin="round"/>
<path d="M289.0 181.0 L289.9 181.0 L291.6 181.0 L294.2 181.0 L297.8 181.0 L300.8 181.2 L303.4 181.8 L305.6 182.5 L307.4 183.5 L308.8 184.6 L309.9 185.9 L310.8 187.2 L311.2 188.8 L311.4 190.2 L311.3 191.6 L310.9 192.9 L310.1 194.1 L308.9 195.2 L307.1 196.1 L304.9 196.8 L302.1 197.2 L299.6 197.6 L297.2 197.7 L295.0 197.6 L293.0 197.4 L291.3 196.8 L289.9 195.8 L288.9 194.4 L288.1 192.6 L287.6 191.3 L287.2 190.4 L287.0 190.0" fill="none" stroke="#000" stroke-width="1.30" stroke-linejoin="round"/>
<path d="M317.4 146.0 L317.7 145.7 L318.3 145.1 L319.1 144.1 L320.3 142.9 L321.6 141.7 L323.2 140.6 L325.0 139.5 L327.0 138.5 L329.0 137.8 L331.0 137.5 L333.0 137.6 L335.0 137.9 L336.9 138.5 L338.8 139.2 L340.6 140.2 L342.4 141.3 L344.0 142.6 L345.5 144.0 L346.9 145.6 L348.1 147.4 L348.8 149.0 L348.9 150.5 L348.5 151.9 L347.5 153.1 L346.4 154.4 L345.1 155.6 L343.8 156.9 L342.2 158.1 L340.7 159.2 L339.1 160.2 L337.4 161.1 L335.6 161.9 L333.8 162.4 L331.9 162.6 L330.0 162.6 L328.0 162.4 L326.1 161.9 L324.4 161.3 L322.8 160.5 L321.2 159.5 L320.0 158.4 L319.0 157.1 L318.2 155.8 L317.8 154.2 L317.4 153.1 L317.1 152.4 L317.0 152.0" fill="none" stroke="#000" stroke-width="1.30" stroke-linejoin="round"/>
<path d="M314.0 114.0 L314.7 114.1 L316.1 114.3 L318.1 114.6 L320.9 114.9 L323.6 115.4 L326.2 116.0 L328.8 116.6 L331.2 117.4 L333.4 118.1 L335.2 118.9 L336.7 119.6 L337.8 120.4 L338.7 121.2 L339.2 122.0 L339.5 122.8 L339.5 123.7 L339.3 124.5 L338.8 125.2 L338.2 125.9 L337.3 126.6 L336.4 127.2 L335.5 127.8 L334.5 128.4 L333.5 129.1 L332.6 129.8 L331.7 130.6 L330.9 131.5 L330.1 132.5 L329.3 133.1 L328.4 133.4 L327.5 133.2 L326.5 132.8 L325.4 132.1 L324.3 131.2 L323.1 130.1 L321.9 128.9 L320.7 127.6 L319.6 126.2 L318.5 124.8 L317.5 123.2 L316.6 121.9 L315.7 120.6 L314.9 119.5 L314.1 118.5 L313.6 117.6 L313.4 116.7 L313.4 115.9 L313.6 115.1 L313.8 114.6 L313.9 114.2 L314.0 114.0" fill="none" stroke="#000" stroke-width="1.20" stroke-linejoin="round"/>
<path d="M199.0 325.8 L198.5 325.4 L197.4 324.6 L195.9 323.4 L193.7 321.9 L191.5 320.5 L189.2 319.5 L186.7 318.7 L184.0 318.2 L181.8 317.9 L180.0 317.9 L178.5 318.2 L177.5 318.7 L176.7 319.6 L176.2 320.9 L175.9 322.6 L175.9 324.8 L176.1 327.0 L176.5 329.3 L177.1 331.8 L177.8 334.5 L178.6 337.1 L179.2 339.7 L179.8 342.4 L180.4 345.0 L180.6 347.3 L180.5 349.1 L180.0 350.6 L179.2 351.6 L178.6 352.4 L178.2 352.9 L178.0 353.2" fill="none" stroke="#000" stroke-width="1.30" stroke-linejoin="round"/>
<path d="M305.0 130.0 L305.4 130.0 L306.3 130.0 L307.6 130.0 L309.4 130.0 L311.0 130.2 L312.5 130.8 L313.9 131.5 L315.1 132.5 L316.2 133.7 L317.2 135.1 L318.1 136.6 L318.9 138.4 L319.5 140.1 L320.0 141.9 L320.4 143.6 L320.6 145.4 L320.6 147.0 L320.4 148.5 L319.9 149.9 L319.1 151.1 L318.2 152.2 L317.1 153.1 L315.8 153.8 L314.2 154.2 L312.8 154.6 L311.2 154.7 L309.8 154.6 L308.2 154.4 L307.0 153.6 L306.1 152.4 L305.4 150.6 L305.1 148.4 L304.8 146.7 L304.6 145.6 L304.5 145.0" fill="none" stroke="#000" stroke-width="1.20" stroke-linejoin="round"/>
<path d="M676.0 383.5 L675.1 384.4 L673.3 386.2 L670.6 388.9 L666.9 392.6 L663.9 396.3 L661.4 400.1 L659.5 404.1 L658.1 408.2 L657.7 411.6 L658.1 414.3 L659.5 416.4 L661.7 417.7 L663.9 419.2 L665.9 420.8 L667.8 422.5 L669.7 424.3 L671.3 425.8 L672.6 426.9 L673.8 427.7 L674.7 428.1 L675.3 428.5 L675.8 428.7 L676.0 428.8" fill="none" stroke="#000" stroke-width="1.30" stroke-linejoin="round"/>
<path d="M459.4 346.0 L459.9 346.1 L460.8 346.4 L462.3 346.8 L464.2 347.2 L465.3 347.8 L465.7 348.5 L465.2 349.2 L463.9 350.1 L462.8 350.5 L461.8 350.7 L461.0 350.4 L460.4 349.9 L459.9 349.2 L459.6 348.6 L459.4 347.9 L459.4 347.1 L459.4 346.6 L459.4 346.2 L459.4 346.0" fill="none" stroke="#000" stroke-width="1.30" stroke-linejoin="round"/>
<path d="M343.0 474.0 L343.8 473.8 L345.2 473.4 L347.5 472.9 L350.5 472.1 L353.6 471.7 L356.7 471.6 L359.9 471.8 L363.1 472.2 L365.8 472.9 L367.8 473.6 L369.1 474.5 L369.9 475.5 L369.8 476.4 L368.8 477.3 L366.9 478.1 L364.1 478.9 L361.6 479.7 L359.2 480.6 L357.0 481.5 L355.0 482.5 L353.1 482.9 L351.2 482.6 L349.4 481.8 L347.6 480.2 L346.2 478.9 L345.1 477.6 L344.2 476.5 L343.8 475.5 L343.4 474.8 L343.1 474.2 L343.0 474.0" fill="none" stroke="#000" stroke-width="1.30" stroke-linejoin="round"/>
<path d="M494.0 318.0 L493.9 316.6 L493.8 313.9 L493.6 309.8 L493.4 304.2 L493.3 299.1 L493.4 294.4 L493.8 290.0 L494.2 286.0 L494.8 282.3 L495.2 278.9 L495.8 275.9 L496.2 273.1 L496.7 271.9 L497.1 272.1 L497.4 273.9 L497.6 277.1 L497.7 280.7 L497.6 284.6 L497.2 288.8 L496.8 293.2 L496.4 296.6 L496.1 298.9 L496.0 300.0" fill="none" stroke="#000" stroke-width="1.20" stroke-linejoin="round"/>
<path d="M509.0 255.0 L509.4 254.7 L510.3 254.1 L511.6 253.1 L513.4 251.9 L515.4 250.5 L517.8 249.0 L520.5 247.4 L523.5 245.6 L525.6 244.5 L526.9 244.0 L527.2 244.1 L526.8 244.9 L525.5 245.9 L523.5 247.3 L520.8 249.0 L517.2 251.0 L514.4 252.6 L512.3 253.7 L510.9 254.4 L510.1 254.6 L509.6 254.8 L509.2 254.9 L509.0 255.0" fill="none" stroke="#000" stroke-width="1.20" stroke-linejoin="round"/>
<path d="M179.0 359.5 L179.3 359.7 L179.9 360.0 L180.9 360.4 L182.1 361.1 L183.3 361.9 L184.3 363.0 L185.3 364.2 L186.2 365.8 L186.6 366.9 L186.4 367.8 L185.8 368.4 L184.7 368.6 L183.6 368.4 L182.5 367.8 L181.5 366.8 L180.5 365.2 L179.8 363.9 L179.2 362.7 L179.0 361.7 L179.0 360.8 L179.0 360.2 L179.0 359.7 L179.0 359.5" fill="none" stroke="#000" stroke-width="1.20" stroke-linejoin="round"/>
<path d="M140.5 425.0 L140.8 425.1 L141.5 425.2 L142.6 425.4 L143.9 425.6 L145.1 426.1 L146.1 426.9 L146.9 427.9 L147.4 429.1 L147.6 430.2 L147.4 431.2 L146.7 432.1 L145.6 432.9 L144.6 433.2 L143.6 433.1 L142.7 432.5 L141.8 431.5 L141.2 430.8 L140.7 430.2 L140.5 430.0" fill="none" stroke="#000" stroke-width="1.20" stroke-linejoin="round"/>
<path d="M315.8 107.2 L319.1 108.2 L322.3 109.0 L325.5 109.8 L328.7 110.6 L332.0 111.2 L335.0 112.0 L337.9 112.8 L340.7 113.7 L343.3 114.6 L345.4 115.6 L347.0 116.6 L348.1 117.6 L348.8 118.5 L349.2 119.5 L349.3 120.5 L349.2 121.5 L349.0 122.4 L348.5 123.5 L347.8 124.6 L347.0 125.8 L346.1 127.1 L345.2 128.4 L344.4 129.7 L343.6 130.9 L343.0 132.2 L342.6 133.5 L342.6 134.8 L343.0 136.2 L343.6 137.5 L344.4 138.8 L345.4 140.3 L346.5 141.8 L347.8 143.5 L349.0 145.0 L350.1 146.5 L351.2 147.8 L352.1 149.1 L352.6 150.4 L352.6 151.7 L352.1 152.9 L351.2 154.2 L349.9 155.6 L348.5 157.1 L346.8 158.6 L344.9 160.3 L343.1 161.8 L341.5 163.3 L340.0 164.7 L338.8 166.0 L337.6 167.1 L336.6 168.0 L335.8 168.8 L335.2 169.5 L334.4 169.6 L333.4 169.2 L332.2 168.4 L331.0 167.0 L330.2 165.8 L329.9 164.8 L330.1 163.9 L330.9 163.1 L331.8 162.4 L332.8 161.6 L333.9 160.9 L335.1 160.1 L336.4 159.3 L337.6 158.4 L338.9 157.5 L340.1 156.5 L341.2 155.5 L342.2 154.4 L343.1 153.3 L343.9 152.2 L344.2 151.0 L344.1 149.8 L343.5 148.4 L342.5 147.1 L341.4 145.7 L340.1 144.4 L338.8 143.1 L337.2 141.9 L335.9 140.7 L334.6 139.6 L333.5 138.5 L332.5 137.5 L331.9 136.4 L331.6 135.3 L331.8 134.1 L332.2 132.9 L332.9 131.8 L333.6 130.8 L334.5 129.9 L335.5 129.1 L336.5 128.4 L337.5 127.6 L338.5 126.9 L339.5 126.1 L340.2 125.3 L340.8 124.4 L341.0 123.5 L341.0 122.5 L340.7 121.5 L340.1 120.6 L339.1 119.7 L337.9 118.8 L336.2 118.0 L334.2 117.2 L331.9 116.4 L329.1 115.6 L326.3 115.0 L323.5 114.4 L320.7 113.9 L317.8 113.6 L315.5 112.8 L313.8 111.7 L312.6 110.3 L311.9 108.5 L312.3 107.4 L313.6 107.0Z" fill="#8a2c00"/>
<path d="M311.0 105.8 L311.8 106.0 L313.4 106.5 L315.8 107.2 L319.1 108.2 L322.3 109.0 L325.5 109.8 L328.7 110.6 L332.0 111.2 L335.0 112.0 L337.9 112.8 L340.7 113.7 L343.3 114.6 L345.4 115.6 L347.0 116.6 L348.1 117.6 L348.8 118.5 L349.2 119.5 L349.3 120.5 L349.2 121.5 L349.0 122.4 L348.5 123.5 L347.8 124.6 L347.0 125.8 L346.1 127.1 L345.2 128.4 L344.4 129.7 L343.6 130.9 L343.0 132.2 L342.6 133.5 L342.6 134.8 L343.0 136.2 L343.6 137.5 L344.4 138.8 L345.4 140.3 L346.5 141.8 L347.8 143.5 L349.0 145.0 L350.1 146.5 L351.2 147.8 L352.1 149.1 L352.6 150.4 L352.6 151.7 L352.1 152.9 L351.2 154.2 L349.9 155.6 L348.5 157.1 L346.8 158.6 L344.9 160.3 L343.1 161.8 L341.5 163.3 L340.0 164.7 L338.8 166.0 L337.6 167.1 L336.6 168.0 L335.8 168.8 L335.2 169.5 L334.7 169.9 L334.4 170.2 L334.2 170.4" fill="none" stroke="#000" stroke-width="1.00" stroke-linejoin="round"/>
<path d="M311.4 107.0 L312.2 107.2 L313.8 107.6 L316.2 108.3 L319.3 109.1 L322.5 109.9 L325.7 110.7 L328.8 111.4 L331.9 112.1 L334.9 112.8 L337.7 113.6 L340.2 114.5 L342.6 115.5 L344.5 116.4 L346.0 117.4 L346.9 118.4 L347.5 119.4 L347.8 120.3 L347.8 121.3 L347.6 122.2 L347.2 123.2 L346.7 124.2 L346.0 125.2 L345.1 126.4 L344.1 127.6 L343.2 128.8 L342.4 130.0 L341.7 131.3 L341.1 132.6 L340.8 133.8 L340.9 135.1 L341.2 136.4 L341.9 137.6 L342.8 139.0 L343.8 140.4 L345.0 141.8 L346.3 143.4 L347.5 144.9 L348.7 146.3 L349.7 147.7 L350.7 149.0 L351.2 150.3 L351.2 151.5 L350.8 152.8 L349.8 154.1 L348.7 155.4 L347.3 156.8 L345.7 158.3 L343.9 159.8 L342.2 161.2 L340.7 162.6 L339.2 163.9 L337.9 165.1 L336.8 166.2 L335.8 167.1 L335.0 167.9 L334.3 168.5 L333.8 169.0 L333.5 169.3 L333.3 169.5" fill="none" stroke="#000" stroke-width="1.00" stroke-linejoin="round"/>
<path d="M311.8 108.2 L312.6 108.4 L314.2 108.8 L316.5 109.3 L319.6 110.1 L322.7 110.8 L325.8 111.6 L328.9 112.3 L331.9 112.9 L334.8 113.7 L337.4 114.5 L339.8 115.4 L341.9 116.3 L343.6 117.3 L344.9 118.2 L345.8 119.2 L346.2 120.2 L346.4 121.2 L346.3 122.1 L346.0 123.0 L345.5 123.9 L344.8 124.9 L344.1 125.9 L343.2 126.9 L342.2 128.0 L341.3 129.2 L340.5 130.4 L339.8 131.6 L339.2 132.9 L339.0 134.1 L339.1 135.4 L339.5 136.6 L340.2 137.8 L341.2 139.1 L342.2 140.4 L343.4 141.8 L344.8 143.3 L346.0 144.8 L347.2 146.2 L348.3 147.6 L349.3 148.9 L349.8 150.2 L349.8 151.4 L349.4 152.7 L348.5 153.9 L347.4 155.2 L346.1 156.6 L344.6 157.9 L342.9 159.3 L341.3 160.7 L339.8 161.9 L338.4 163.1 L337.1 164.3 L336.0 165.3 L335.0 166.2 L334.2 166.9 L333.5 167.6 L333.0 168.1 L332.6 168.4 L332.5 168.6" fill="none" stroke="#000" stroke-width="1.00" stroke-linejoin="round"/>
<path d="M312.2 109.4 L313.0 109.6 L314.5 109.9 L316.8 110.4 L319.9 111.1 L322.9 111.7 L325.9 112.4 L328.9 113.1 L331.9 113.8 L334.6 114.6 L337.1 115.4 L339.3 116.2 L341.2 117.2 L342.7 118.1 L343.9 119.1 L344.6 120.0 L344.9 121.0 L345.0 122.0 L344.8 122.9 L344.4 123.8 L343.7 124.7 L343.0 125.6 L342.2 126.5 L341.3 127.5 L340.3 128.5 L339.4 129.6 L338.6 130.7 L337.9 131.9 L337.4 133.2 L337.1 134.4 L337.3 135.6 L337.7 136.8 L338.6 138.0 L339.5 139.2 L340.6 140.5 L341.9 141.9 L343.3 143.3 L344.6 144.7 L345.7 146.1 L346.8 147.4 L347.8 148.8 L348.3 150.1 L348.4 151.3 L348.0 152.6 L347.1 153.8 L346.1 155.0 L344.9 156.3 L343.5 157.6 L341.9 158.9 L340.4 160.1 L338.9 161.3 L337.6 162.4 L336.3 163.4 L335.2 164.4 L334.2 165.2 L333.3 166.0 L332.7 166.7 L332.1 167.2 L331.8 167.5 L331.6 167.7" fill="none" stroke="#000" stroke-width="1.00" stroke-linejoin="round"/>
<path d="M312.7 110.6 L313.4 110.7 L314.9 111.0 L317.2 111.4 L320.1 112.0 L323.1 112.6 L326.1 113.3 L329.0 113.9 L331.9 114.7 L334.5 115.4 L336.8 116.2 L338.8 117.1 L340.5 118.0 L341.8 118.9 L342.8 119.9 L343.4 120.9 L343.6 121.8 L343.6 122.8 L343.3 123.7 L342.8 124.6 L342.0 125.4 L341.2 126.2 L340.3 127.1 L339.3 128.0 L338.4 128.9 L337.5 130.0 L336.7 131.1 L336.0 132.2 L335.5 133.5 L335.3 134.7 L335.5 135.9 L336.0 137.1 L336.9 138.2 L337.9 139.3 L339.0 140.6 L340.3 141.9 L341.8 143.2 L343.1 144.6 L344.3 146.0 L345.4 147.3 L346.4 148.7 L346.9 150.0 L347.0 151.2 L346.6 152.4 L345.8 153.6 L344.8 154.8 L343.7 156.0 L342.4 157.2 L340.9 158.4 L339.5 159.6 L338.1 160.6 L336.8 161.6 L335.5 162.6 L334.4 163.4 L333.4 164.3 L332.5 165.0 L331.8 165.7 L331.3 166.3 L330.9 166.6 L330.7 166.8" fill="none" stroke="#000" stroke-width="1.00" stroke-linejoin="round"/>
<path d="M313.1 111.8 L313.8 111.9 L315.3 112.2 L317.5 112.5 L320.4 113.0 L323.3 113.5 L326.2 114.1 L329.1 114.8 L331.9 115.5 L334.4 116.3 L336.5 117.1 L338.3 118.0 L339.8 118.8 L341.0 119.8 L341.7 120.7 L342.2 121.7 L342.3 122.7 L342.2 123.6 L341.8 124.5 L341.1 125.3 L340.2 126.1 L339.3 126.9 L338.4 127.7 L337.4 128.6 L336.4 129.4 L335.5 130.4 L334.8 131.4 L334.1 132.6 L333.6 133.8 L333.5 135.0 L333.7 136.2 L334.2 137.3 L335.2 138.3 L336.3 139.4 L337.5 140.6 L338.8 141.9 L340.3 143.2 L341.6 144.5 L342.8 145.8 L343.9 147.2 L344.9 148.5 L345.5 149.9 L345.6 151.1 L345.3 152.3 L344.5 153.5 L343.5 154.6 L342.5 155.7 L341.2 156.9 L339.9 158.0 L338.5 159.0 L337.2 160.0 L335.9 160.9 L334.7 161.7 L333.6 162.5 L332.6 163.3 L331.7 164.1 L331.0 164.8 L330.4 165.4 L330.1 165.7 L329.9 165.9" fill="none" stroke="#000" stroke-width="1.00" stroke-linejoin="round"/>
<path d="M313.5 113.0 L314.2 113.1 L315.7 113.3 L317.8 113.6 L320.7 113.9 L323.5 114.4 L326.3 115.0 L329.1 115.6 L331.9 116.4 L334.2 117.2 L336.2 118.0 L337.9 118.8 L339.1 119.7 L340.1 120.6 L340.7 121.5 L341.0 122.5 L341.0 123.5 L340.8 124.4 L340.2 125.3 L339.5 126.1 L338.5 126.9 L337.5 127.6 L336.5 128.4 L335.5 129.1 L334.5 129.9 L333.6 130.8 L332.9 131.8 L332.2 132.9 L331.8 134.1 L331.6 135.3 L331.9 136.4 L332.5 137.5 L333.5 138.5 L334.6 139.6 L335.9 140.7 L337.2 141.9 L338.8 143.1 L340.1 144.4 L341.4 145.7 L342.5 147.1 L343.5 148.4 L344.1 149.8 L344.2 151.0 L343.9 152.2 L343.1 153.3 L342.2 154.4 L341.2 155.5 L340.1 156.5 L338.9 157.5 L337.6 158.4 L336.4 159.3 L335.1 160.1 L333.9 160.9 L332.8 161.6 L331.8 162.4 L330.9 163.1 L330.1 163.9 L329.6 164.4 L329.2 164.8 L329.0 165.0" fill="none" stroke="#000" stroke-width="1.00" stroke-linejoin="round"/>
<path d="M312.9 108.1 L314.1 108.4 L315.2 109.0 L316.2 109.7 L316.9 110.5 L317.6 111.5 L317.9 112.7 L317.9 114.1 L317.6 115.6 L316.9 117.4 L316.3 119.1 L315.8 120.9 L315.2 122.6 L314.8 124.4 L314.1 126.0 L313.4 127.4 L312.5 128.7 L311.5 129.8 L310.4 130.7 L309.3 131.2 L308.1 131.5 L306.9 131.5 L305.9 131.1 L305.2 130.3 L304.8 129.1 L304.7 127.4 L304.8 125.8 L305.0 124.1 L305.4 122.4 L306.1 120.6 L306.7 118.9 L307.3 117.1 L307.9 115.4 L308.6 113.6 L309.1 112.1 L309.6 110.8 L310.1 109.7 L310.4 108.8 L311.0 108.2 L311.8 108.0Z" fill="#000"/>
<path d="M293.9 163.2 L295.1 161.3 L296.5 159.7 L298.0 158.4 L299.6 157.4 L301.4 156.6 L303.1 156.0 L304.9 155.6 L306.6 155.3 L308.4 155.2 L309.9 155.3 L311.2 155.8 L312.3 156.5 L313.2 157.5 L313.6 158.6 L313.6 159.8 L313.2 161.1 L312.3 162.4 L311.2 163.7 L309.9 164.8 L308.4 165.8 L306.6 166.7 L304.9 167.5 L303.1 168.2 L301.4 168.9 L299.6 169.6 L298.0 170.0 L296.5 170.2 L295.1 170.3 L293.9 170.2 L292.9 169.8 L292.3 169.3 L292.0 168.5 L292.0 167.5 L292.3 166.3 L292.9 164.8Z" fill="#000"/>
<path d="M289.2 206.2 L290.8 205.8 L292.3 205.5 L293.9 205.5 L295.6 205.8 L297.4 206.2 L298.6 206.9 L299.2 207.8 L299.2 208.9 L298.8 210.1 L298.0 211.2 L297.0 212.2 L295.8 213.1 L294.2 213.9 L292.8 214.4 L291.4 214.6 L290.1 214.6 L288.9 214.4 L287.9 213.8 L287.3 212.8 L287.0 211.4 L287.0 209.6 L287.4 208.2 L288.1 207.1Z" fill="#000"/>
<path d="M313.0 127.0 L313.3 127.4 L313.9 128.1 L314.9 129.2 L316.1 130.8 L317.2 132.4 L318.2 134.1 L319.1 136.0 L319.9 138.0 L320.4 140.0 L320.8 142.0 L321.0 144.0 L321.0 146.0 L320.8 147.9 L320.4 149.6 L319.9 151.2 L319.1 152.8 L318.3 154.1 L317.4 155.2 L316.5 156.1 L315.5 156.9 L314.8 157.4 L314.2 157.8 L314.0 158.0" fill="none" stroke="#000" stroke-width="1.10" stroke-linejoin="round"/>
<path d="M315.6 127.0 L315.9 127.4 L316.5 128.1 L317.5 129.2 L318.7 130.8 L319.9 132.4 L320.9 134.1 L321.7 136.0 L322.5 138.0 L323.0 140.0 L323.4 142.0 L323.6 144.0 L323.6 146.0 L323.4 147.9 L323.0 149.6 L322.5 151.2 L321.7 152.8 L320.9 154.1 L320.0 155.2 L319.1 156.1 L318.1 156.9 L317.4 157.4 L316.9 157.8 L316.6 158.0" fill="none" stroke="#000" stroke-width="1.10" stroke-linejoin="round"/>
<path d="M318.2 127.0 L318.5 127.4 L319.1 128.1 L320.1 129.2 L321.3 130.8 L322.4 132.4 L323.4 134.1 L324.3 136.0 L325.1 138.0 L325.6 140.0 L326.0 142.0 L326.2 144.0 L326.2 146.0 L326.0 147.9 L325.6 149.6 L325.1 151.2 L324.3 152.8 L323.5 154.1 L322.6 155.2 L321.7 156.1 L320.7 156.9 L319.9 157.4 L319.4 157.8 L319.2 158.0" fill="none" stroke="#000" stroke-width="1.10" stroke-linejoin="round"/>
<path d="M312.0 106.0 L312.5 106.1 L313.5 106.4 L315.0 106.8 L317.0 107.2 L319.1 107.8 L321.4 108.3 L323.8 108.9 L326.2 109.6 L328.8 110.2 L331.2 110.8 L333.8 111.4 L336.2 112.1 L338.1 112.5 L339.4 112.8 L340.0 113.0" fill="none" stroke="#000" stroke-width="1.00" stroke-linejoin="round"/>
<path d="M313.0 108.0 L313.4 108.1 L314.3 108.4 L315.6 108.8 L317.4 109.2 L319.3 109.8 L321.4 110.3 L323.8 110.9 L326.2 111.6 L328.8 112.2 L331.2 112.7 L333.8 113.3 L336.2 113.8 L338.1 114.2 L339.4 114.5 L340.0 114.6" fill="none" stroke="#000" stroke-width="1.00" stroke-linejoin="round"/>
<path d="M314.0 110.0 L314.4 110.1 L315.1 110.4 L316.2 110.8 L317.8 111.2 L319.5 111.8 L321.5 112.3 L323.8 112.9 L326.2 113.6 L328.8 114.1 L331.2 114.7 L333.8 115.1 L336.2 115.6 L338.1 115.9 L339.4 116.1 L340.0 116.2" fill="none" stroke="#000" stroke-width="1.00" stroke-linejoin="round"/>
<path d="M315.0 112.0 L315.3 112.1 L315.9 112.4 L316.9 112.8 L318.1 113.2 L319.7 113.8 L321.6 114.3 L323.8 114.9 L326.2 115.6 L328.8 116.1 L331.2 116.6 L333.8 117.0 L336.2 117.3 L338.1 117.6 L339.4 117.7 L340.0 117.8" fill="none" stroke="#000" stroke-width="1.00" stroke-linejoin="round"/>
<path d="M118.0 50.0 L354.2 50.0 L354.2 56.0 L354.2 59.0 L351.1 59.0 L351.1 63.1 L343.3 63.1 L343.3 67.1 L336.1 67.1 L336.1 71.2 L333.3 71.2 L333.3 75.9 L326.1 75.9 L326.1 80.2 L319.2 80.2 L319.2 84.3 L312.1 84.3 L312.1 88.1 L308.0 88.1 L308.0 90.8 L304.8 90.8 L304.8 93.2 L297.2 93.2 L297.2 97.2 L294.0 97.2 L294.0 100.8 L287.2 100.8 L287.2 109.5 L293.7 109.5 L293.7 105.0 L311.3 105.0 L311.3 111.3 L308.5 114.0 L308.5 118.0 L304.0 122.6 L304.0 136.2 L305.1 140.0 L305.1 147.6 L307.4 147.6 L308.0 154.4 L302.8 156.6 L298.3 160.0 L293.8 164.5 L292.2 167.3 L290.8 173.1 L288.6 189.1 L287.1 202.2 L286.4 211.0 L287.0 218.0 L283.0 220.0 L276.8 220.5 L264.6 221.2 L255.8 222.6 L241.0 224.0 L216.5 228.1 L216.5 232.5 L202.5 237.8 L197.3 241.3 L193.9 241.3 L193.9 246.0 L192.2 246.0 L192.2 249.0 L190.4 249.0 L190.4 252.0 L188.7 252.0 L188.7 255.0 L187.0 255.0 L187.0 258.5 L185.2 258.5 L185.2 261.9 L183.5 261.9 L183.5 265.4 L180.9 265.4 L180.9 269.3 L178.4 269.3 L178.4 273.2 L177.1 273.2 L177.1 275.8 L175.8 275.8 L175.8 278.4 L173.2 278.4 L173.2 280.4 L170.6 280.4 L170.6 282.3 L168.0 282.3 L168.0 284.2 L165.4 284.2 L165.4 286.1 L163.4 286.1 L163.4 288.7 L161.5 288.7 L161.5 291.3 L159.3 291.3 L159.3 294.8 L157.2 294.8 L157.2 298.2 L155.0 298.2 L155.0 301.7 L151.8 301.7 L151.8 304.3 L148.6 304.3 L148.6 306.9 L146.3 306.9 L146.3 308.8 L146.3 326.3 L152.2 328.3 L153.1 332.1 L146.3 338.0 L149.2 343.8 L153.1 349.6 L153.1 365.1 L149.2 367.1 L146.3 371.0 L143.4 378.7 L142.4 390.0 L142.1 392.5 L139.5 405.4 L138.2 418.4 L138.0 432.0 L141.6 432.0 L141.6 448.0 L138.3 448.0 L138.3 451.6 L134.9 451.6 L134.9 455.2 L131.6 455.2 L131.6 458.8 L128.2 458.8 L128.2 462.4 L124.9 462.4 L124.9 466.0 L118.0 467.6Z" fill="#fff"/>
<path d="M125.0 144.4 L133.5 148.6 L141.9 148.6 L149.2 151.3 L158.7 151.3 L166.0 150.3 L161.8 145.4 L167.1 140.2 L170.2 134.9 L175.5 137.0 L181.8 142.3 L188.1 140.6 L193.4 133.9 L206.0 128.6 L214.4 126.5 L224.9 119.6 L238.6 115.4 L245.9 117.1 L253.3 115.4 L260.6 118.1 L265.3 119.2 L274.4 123.1 L279.0 126.0 L285.9 132.8 L288.7 140.8 L289.3 147.6 L288.1 153.2 L284.7 154.9 L283.6 156.6 L285.9 161.2 L291.0 163.4 L289.3 170.0 L288.0 180.0 L287.0 195.0 L286.0 208.0 L285.5 215.0 L283.0 219.5 L276.2 220.4 L264.6 221.2 L255.8 222.6 L250.0 223.5 L240.0 223.4 L228.1 224.7 L217.7 227.9 L206.1 234.4 L198.3 238.9 L193.8 240.2 L191.8 233.1 L202.2 229.2 L210.0 227.3 L213.8 226.0 L215.1 219.5 L208.7 218.2 L201.5 214.3 L200.9 205.9 L204.8 199.4 L210.6 196.8 L204.8 192.3 L190.5 189.1 L184.0 193.0 L178.9 196.8 L176.9 204.6 L178.9 211.1 L184.0 216.3 L186.0 224.0 L184.0 231.2 L175.0 233.1 L171.1 235.7 L168.5 243.5 L165.9 250.6 L171.7 250.0 L177.6 245.4 L181.5 239.6 L189.2 240.9 L190.5 243.5 L187.9 248.7 L193.1 246.1" fill="none" stroke="#000" stroke-width="1.10" stroke-linejoin="round"/>
<path d="M193.1 246.1 L189.5 249.7 L186.6 255.6 L183.7 258.5 L176.4 262.8 L167.7 268.7 L163.3 274.5 L160.4 280.3 L158.9 281.0" fill="none" stroke="#000" stroke-width="1.10" stroke-linejoin="round"/>
<path d="M187.9 248.7 L183.7 249.7 L177.8 250.5 L169.1 255.6 L162.6 261.4 L161.8 267.2 L158.9 280.3 L157.5 287.6 L154.6 293.4 L151.6 299.2 L147.3 303.6 L143.6 306.5 L142.9 312.3 L144.4 320.5 L145.4 328.3 L142.4 334.1 L145.4 338.0 L147.3 351.6 L147.3 361.3 L145.4 371.0 L142.4 382.6 L141.5 390.0 L139.0 400.0 L136.0 403.0 L134.4 402.8 L124.0 402.8" fill="none" stroke="#000" stroke-width="1.10" stroke-linejoin="round"/>
<path d="M134.4 402.8 L135.5 412.0 L135.5 430.7 L139.0 437.5 L138.0 441.4 L134.6 449.0 L130.7 455.0 L124.9 459.8" fill="none" stroke="#000" stroke-width="1.10" stroke-linejoin="round"/>
<path d="M280.0 109.5 L288.0 99.3 L294.8 92.5 L305.0 88.0 L314.0 82.3 L322.0 76.1 L327.7 72.1 L334.0 67.0 L340.0 62.0 L346.0 57.0 L349.0 55.0" fill="none" stroke="#000" stroke-width="1.10" stroke-linejoin="round"/>
<path d="M280.0 109.5 L284.6 115.2 L289.1 111.8 L294.8 114.0 L300.5 112.9 L301.1 126.0 L302.3 132.8 L300.0 140.8 L297.2 148.7 L293.8 153.2 L284.7 154.9" fill="none" stroke="#000" stroke-width="1.10" stroke-linejoin="round"/>
<path d="M254.0 115.2 L265.3 119.2 L274.4 123.1" fill="none" stroke="#000" stroke-width="1.10" stroke-linejoin="round"/>
<path d="M284.6 54.6 L282.9 65.3 L280.6 76.7 L280.0 88.0 L281.2 97.0 L290.3 97.3 L293.7 93.1" fill="none" stroke="#000" stroke-width="1.10" stroke-linejoin="round"/>
<path d="M292.0 54.6 L291.4 64.2 L293.1 73.3 L297.6 78.4 L298.8 86.3 L305.0 83.5 L312.9 80.1 L315.8 76.7 L310.7 72.1 L310.1 67.6 L312.9 63.6 L319.7 61.4 L325.4 64.8 L326.0 57.4 L326.5 55.1" fill="none" stroke="#000" stroke-width="1.10" stroke-linejoin="round"/>
<path d="M327.7 55.1 L331.0 58.5 L334.0 56.0" fill="none" stroke="#000" stroke-width="1.10" stroke-linejoin="round"/>
<rect x="342.7" y="100.5" width="21.9" height="11" fill="#fff"/>
<text x="353.7" y="110.3" font-size="12" font-weight="bold" text-anchor="middle" textLength="20.3" lengthAdjust="spacingAndGlyphs">17.5</text>
<rect x="414.9" y="127.8" width="13.2" height="11" fill="#fff"/>
<text x="421.5" y="137.6" font-size="12" font-weight="bold" text-anchor="middle" textLength="11.6" lengthAdjust="spacingAndGlyphs">18</text>
<rect x="354.9" y="147.5" width="13.2" height="11" fill="#fff"/>
<text x="361.5" y="157.3" font-size="12" font-weight="bold" text-anchor="middle" textLength="11.6" lengthAdjust="spacingAndGlyphs">17</text>
<rect x="311.7" y="164.5" width="21.9" height="11" fill="#fff"/>
<text x="322.7" y="174.3" font-size="12" font-weight="bold" text-anchor="middle" textLength="20.3" lengthAdjust="spacingAndGlyphs">15.5</text>
<rect x="318.8" y="175.5" width="21.9" height="11" fill="#fff"/>
<text x="329.8" y="185.3" font-size="12" font-weight="bold" text-anchor="middle" textLength="20.3" lengthAdjust="spacingAndGlyphs">16.5</text>
<rect x="276.9" y="214.7" width="13.2" height="11" fill="#fff"/>
<text x="283.5" y="224.5" font-size="12" font-weight="bold" text-anchor="middle" textLength="11.6" lengthAdjust="spacingAndGlyphs">15</text>
<rect x="282.8" y="229.3" width="21.9" height="11" fill="#fff"/>
<text x="293.8" y="239.1" font-size="12" font-weight="bold" text-anchor="middle" textLength="20.3" lengthAdjust="spacingAndGlyphs">15.5</text>
<rect x="354.8" y="227.7" width="13.2" height="11" fill="#fff"/>
<text x="361.4" y="237.5" font-size="12" font-weight="bold" text-anchor="middle" textLength="11.6" lengthAdjust="spacingAndGlyphs">18</text>
<rect x="256.1" y="243.3" width="13.2" height="11" fill="#fff"/>
<text x="262.7" y="253.1" font-size="12" font-weight="bold" text-anchor="middle" textLength="11.6" lengthAdjust="spacingAndGlyphs">16</text>
<rect x="237.2" y="292.4" width="21.9" height="11" fill="#fff"/>
<text x="248.2" y="302.2" font-size="12" font-weight="bold" text-anchor="middle" textLength="20.3" lengthAdjust="spacingAndGlyphs">16.5</text>
<rect x="237.9" y="301.3" width="13.2" height="11" fill="#fff"/>
<text x="244.5" y="311.1" font-size="12" font-weight="bold" text-anchor="middle" textLength="11.6" lengthAdjust="spacingAndGlyphs">17</text>
<rect x="226.5" y="322.4" width="21.9" height="11" fill="#fff"/>
<text x="237.5" y="332.2" font-size="12" font-weight="bold" text-anchor="middle" textLength="20.3" lengthAdjust="spacingAndGlyphs">17.5</text>
<rect x="162.5" y="298.1" width="21.9" height="11" fill="#fff"/>
<text x="173.5" y="307.9" font-size="12" font-weight="bold" text-anchor="middle" textLength="20.3" lengthAdjust="spacingAndGlyphs">16.5</text>
<rect x="164.0" y="348.5" width="13.2" height="11" fill="#fff"/>
<text x="170.6" y="358.3" font-size="12" font-weight="bold" text-anchor="middle" textLength="11.6" lengthAdjust="spacingAndGlyphs">17</text>
<rect x="216.9" y="355.0" width="13.2" height="11" fill="#fff"/>
<text x="223.5" y="364.8" font-size="12" font-weight="bold" text-anchor="middle" textLength="11.6" lengthAdjust="spacingAndGlyphs">18</text>
<rect x="310.7" y="349.5" width="21.9" height="11" fill="#fff"/>
<text x="321.7" y="359.3" font-size="12" font-weight="bold" text-anchor="middle" textLength="20.3" lengthAdjust="spacingAndGlyphs">18.5</text>
<rect x="318.6" y="388.5" width="21.9" height="11" fill="#fff"/>
<text x="329.6" y="398.3" font-size="12" font-weight="bold" text-anchor="middle" textLength="20.3" lengthAdjust="spacingAndGlyphs">18.5</text>
<rect x="435.0" y="300.7" width="21.9" height="11" fill="#fff"/>
<text x="446.0" y="310.5" font-size="12" font-weight="bold" text-anchor="middle" textLength="20.3" lengthAdjust="spacingAndGlyphs">18.5</text>
<rect x="452.3" y="374.0" width="21.9" height="11" fill="#fff"/>
<text x="463.3" y="383.8" font-size="12" font-weight="bold" text-anchor="middle" textLength="20.3" lengthAdjust="spacingAndGlyphs">18.5</text>
<rect x="512.4" y="289.6" width="21.9" height="11" fill="#fff"/>
<text x="523.4" y="299.4" font-size="12" font-weight="bold" text-anchor="middle" textLength="20.3" lengthAdjust="spacingAndGlyphs">18.5</text>
<rect x="636.6" y="293.1" width="21.9" height="11" fill="#fff"/>
<text x="647.6" y="302.9" font-size="12" font-weight="bold" text-anchor="middle" textLength="20.3" lengthAdjust="spacingAndGlyphs">18.5</text>
<rect x="552.6" y="345.9" width="13.2" height="11" fill="#fff"/>
<text x="559.2" y="355.7" font-size="12" font-weight="bold" text-anchor="middle" textLength="11.6" lengthAdjust="spacingAndGlyphs">19</text>
<rect x="527.9" y="387.0" width="13.2" height="11" fill="#fff"/>
<text x="534.5" y="396.8" font-size="12" font-weight="bold" text-anchor="middle" textLength="11.6" lengthAdjust="spacingAndGlyphs">19</text>
<rect x="467.6" y="457.0" width="13.2" height="11" fill="#fff"/>
<text x="474.2" y="466.8" font-size="12" font-weight="bold" text-anchor="middle" textLength="11.6" lengthAdjust="spacingAndGlyphs">19</text>
<rect x="481.8" y="498.6" width="13.2" height="11" fill="#fff"/>
<text x="488.4" y="508.4" font-size="12" font-weight="bold" text-anchor="middle" textLength="11.6" lengthAdjust="spacingAndGlyphs">19</text>
<rect x="516.9" y="549.2" width="13.2" height="11" fill="#fff"/>
<text x="523.5" y="559.0" font-size="12" font-weight="bold" text-anchor="middle" textLength="11.6" lengthAdjust="spacingAndGlyphs">19</text>
<rect x="178.0" y="470.8" width="13.2" height="11" fill="#fff"/>
<text x="184.6" y="480.6" font-size="12" font-weight="bold" text-anchor="middle" textLength="11.6" lengthAdjust="spacingAndGlyphs">18</text>
<rect x="191.0" y="530.1" width="21.9" height="11" fill="#fff"/>
<text x="202.0" y="539.9" font-size="12" font-weight="bold" text-anchor="middle" textLength="20.3" lengthAdjust="spacingAndGlyphs">18.5</text>
<rect x="286.9" y="547.2" width="21.9" height="11" fill="#fff"/>
<text x="297.9" y="557.0" font-size="12" font-weight="bold" text-anchor="middle" textLength="20.3" lengthAdjust="spacingAndGlyphs">18.5</text>
</g>
<path d="M194.7 56V562 M265.4 56V562 M336.1 56V562 M406.8 56V562 M477.5 56V562 M548.2 56V562 M618.9 56V562" stroke="#acacac" stroke-width="1.4" stroke-dasharray="2 4.55" stroke-dashoffset="4.35" fill="none"/>
<path d="M125 105.5H675 M125 190.3H675 M125 275.1H675 M125 359.9H675 M125 444.7H675 M125 529.5H675" stroke="#acacac" stroke-width="1.4" stroke-dasharray="2 4.55" stroke-dashoffset="1.55" fill="none"/>
<rect x="124" y="55" width="552" height="508" fill="none" stroke="#000" stroke-width="2"/>
<text x="124.0" y="579" font-size="12.5" font-weight="bold" text-anchor="middle">28.5</text>
<text x="194.7" y="579" font-size="12.5" font-weight="bold" text-anchor="middle">29</text>
<text x="265.4" y="579" font-size="12.5" font-weight="bold" text-anchor="middle">29.5</text>
<text x="336.1" y="579" font-size="12.5" font-weight="bold" text-anchor="middle">30</text>
<text x="406.8" y="579" font-size="12.5" font-weight="bold" text-anchor="middle">30.5</text>
<text x="477.5" y="579" font-size="12.5" font-weight="bold" text-anchor="middle">31</text>
<text x="548.2" y="579" font-size="12.5" font-weight="bold" text-anchor="middle">31.5</text>
<text x="618.9" y="579" font-size="12.5" font-weight="bold" text-anchor="middle">32</text>
<text x="117.5" y="110.1" font-size="12.5" font-weight="bold" text-anchor="end">45.5</text>
<text x="117.5" y="194.9" font-size="12.5" font-weight="bold" text-anchor="end">45</text>
<text x="117.5" y="279.7" font-size="12.5" font-weight="bold" text-anchor="end">44.5</text>
<text x="117.5" y="364.5" font-size="12.5" font-weight="bold" text-anchor="end">44</text>
<text x="117.5" y="449.3" font-size="12.5" font-weight="bold" text-anchor="end">43.5</text>
<text x="117.5" y="534.1" font-size="12.5" font-weight="bold" text-anchor="end">43</text>
<path d="M124.0 563V568 M194.7 563V568 M265.4 563V568 M336.1 563V568 M406.8 563V568 M477.5 563V568 M548.2 563V568 M618.9 563V568 M119 105.5H124 M119 190.3H124 M119 275.1H124 M119 359.9H124 M119 444.7H124 M119 529.5H124" stroke="#000" stroke-width="2" fill="none"/>
<g shape-rendering="crispEdges">
<rect x="709" y="550" width="14" height="6" fill="#000086"/>
<rect x="709" y="544" width="14" height="6" fill="#000093"/>
<rect x="709" y="537" width="14" height="7" fill="#00009f"/>
<rect x="709" y="531" width="14" height="6" fill="#0000ac"/>
<rect x="709" y="525" width="14" height="6" fill="#0000b9"/>
<rect x="709" y="519" width="14" height="6" fill="#0000c6"/>
<rect x="709" y="513" width="14" height="6" fill="#0000d2"/>
<rect x="709" y="507" width="14" height="6" fill="#0000df"/>
<rect x="709" y="500" width="14" height="7" fill="#0000ec"/>
<rect x="709" y="494" width="14" height="6" fill="#0000f9"/>
<rect x="709" y="488" width="14" height="6" fill="#0006ff"/>
<rect x="709" y="482" width="14" height="6" fill="#0013ff"/>
<rect x="709" y="476" width="14" height="6" fill="#0020ff"/>
<rect x="709" y="470" width="14" height="6" fill="#002dff"/>
<rect x="709" y="463" width="14" height="7" fill="#0039ff"/>
<rect x="709" y="457" width="14" height="6" fill="#0046ff"/>
<rect x="709" y="451" width="14" height="6" fill="#0053ff"/>
<rect x="709" y="445" width="14" height="6" fill="#0060ff"/>
<rect x="709" y="439" width="14" height="6" fill="#006cff"/>
<rect x="709" y="432" width="14" height="7" fill="#0079ff"/>
<rect x="709" y="426" width="14" height="6" fill="#0086ff"/>
<rect x="709" y="420" width="14" height="6" fill="#0093ff"/>
<rect x="709" y="414" width="14" height="6" fill="#009fff"/>
<rect x="709" y="408" width="14" height="6" fill="#00acff"/>
<rect x="709" y="402" width="14" height="6" fill="#00b9ff"/>
<rect x="709" y="395" width="14" height="7" fill="#00c6ff"/>
<rect x="709" y="389" width="14" height="6" fill="#00d2ff"/>
<rect x="709" y="383" width="14" height="6" fill="#00dfff"/>
<rect x="709" y="377" width="14" height="6" fill="#00ecff"/>
<rect x="709" y="371" width="14" height="6" fill="#00f9ff"/>
<rect x="709" y="365" width="14" height="6" fill="#06fff9"/>
<rect x="709" y="358" width="14" height="7" fill="#13ffec"/>
<rect x="709" y="352" width="14" height="6" fill="#20ffdf"/>
<rect x="709" y="346" width="14" height="6" fill="#2dffd2"/>
<rect x="709" y="340" width="14" height="6" fill="#39ffc6"/>
<rect x="709" y="334" width="14" height="6" fill="#46ffb9"/>
<rect x="709" y="328" width="14" height="6" fill="#53ffac"/>
<rect x="709" y="321" width="14" height="7" fill="#60ff9f"/>
<rect x="709" y="315" width="14" height="6" fill="#6cff93"/>
<rect x="709" y="309" width="14" height="6" fill="#79ff86"/>
<rect x="709" y="303" width="14" height="6" fill="#86ff79"/>
<rect x="709" y="297" width="14" height="6" fill="#93ff6c"/>
<rect x="709" y="290" width="14" height="7" fill="#9fff60"/>
<rect x="709" y="284" width="14" height="6" fill="#acff53"/>
<rect x="709" y="278" width="14" height="6" fill="#b9ff46"/>
<rect x="709" y="272" width="14" height="6" fill="#c6ff39"/>
<rect x="709" y="266" width="14" height="6" fill="#d2ff2d"/>
<rect x="709" y="260" width="14" height="6" fill="#dfff20"/>
<rect x="709" y="253" width="14" height="7" fill="#ecff13"/>
<rect x="709" y="247" width="14" height="6" fill="#f9ff06"/>
<rect x="709" y="241" width="14" height="6" fill="#fff900"/>
<rect x="709" y="235" width="14" height="6" fill="#ffec00"/>
<rect x="709" y="229" width="14" height="6" fill="#ffdf00"/>
<rect x="709" y="223" width="14" height="6" fill="#ffd200"/>
<rect x="709" y="216" width="14" height="7" fill="#ffc600"/>
<rect x="709" y="210" width="14" height="6" fill="#ffb900"/>
<rect x="709" y="204" width="14" height="6" fill="#ffac00"/>
<rect x="709" y="198" width="14" height="6" fill="#ff9f00"/>
<rect x="709" y="192" width="14" height="6" fill="#ff9300"/>
<rect x="709" y="186" width="14" height="6" fill="#ff8600"/>
<rect x="709" y="179" width="14" height="7" fill="#ff7900"/>
<rect x="709" y="173" width="14" height="6" fill="#ff6c00"/>
<rect x="709" y="167" width="14" height="6" fill="#ff6000"/>
<rect x="709" y="161" width="14" height="6" fill="#ff5300"/>
<rect x="709" y="155" width="14" height="6" fill="#ff4600"/>
<rect x="709" y="148" width="14" height="7" fill="#ff3900"/>
<rect x="709" y="142" width="14" height="6" fill="#ff2d00"/>
<rect x="709" y="136" width="14" height="6" fill="#ff2000"/>
<rect x="709" y="130" width="14" height="6" fill="#ff1300"/>
<rect x="709" y="124" width="14" height="6" fill="#ff0600"/>
<rect x="709" y="118" width="14" height="6" fill="#f90000"/>
<rect x="709" y="111" width="14" height="7" fill="#ec0000"/>
<rect x="709" y="105" width="14" height="6" fill="#df0000"/>
<rect x="709" y="99" width="14" height="6" fill="#d20000"/>
<rect x="709" y="93" width="14" height="6" fill="#c60000"/>
<rect x="709" y="87" width="14" height="6" fill="#b90000"/>
<rect x="709" y="81" width="14" height="6" fill="#ac0000"/>
<rect x="709" y="74" width="14" height="7" fill="#9f0000"/>
<rect x="709" y="68" width="14" height="6" fill="#930000"/>
<rect x="709" y="62" width="14" height="6" fill="#860000"/>
</g>
<text x="735.3" y="73.0" font-size="14.6">19.2</text>
<text x="735.3" y="189.0" font-size="14.6">16.2</text>
<text x="735.3" y="311.6" font-size="14.6">13.1</text>
<text x="735.3" y="433.2" font-size="14.6">10.1</text>
<text x="735.3" y="555.5" font-size="14.6">7.02</text>
<text x="75.6" y="41.8" font-size="23.5" stroke="#fff" stroke-width="0.4" textLength="647.6" lengthAdjust="spacingAndGlyphs" xml:space="preserve">Salinity  (ppt).  Date  2026.02.16.  Time  00(h):00(m)  GMT</text>
<text x="322.6" y="605.2" font-size="20" stroke="#fff" stroke-width="0.3" textLength="153.8" lengthAdjust="spacingAndGlyphs" xml:space="preserve">Longitude  (East)</text>
<text transform="translate(81.9 382.8) rotate(-90)" font-size="20" stroke="#fff" stroke-width="0.3" textLength="148" lengthAdjust="spacingAndGlyphs" xml:space="preserve">Latitude  (North)</text>
<text x="147" y="109.1" font-size="19.5" fill="#4a4a4a" stroke="#fff" stroke-width="0.35" textLength="127.7" lengthAdjust="spacingAndGlyphs" xml:space="preserve">Z  =  2.5  m</text>
</svg></body></html>
